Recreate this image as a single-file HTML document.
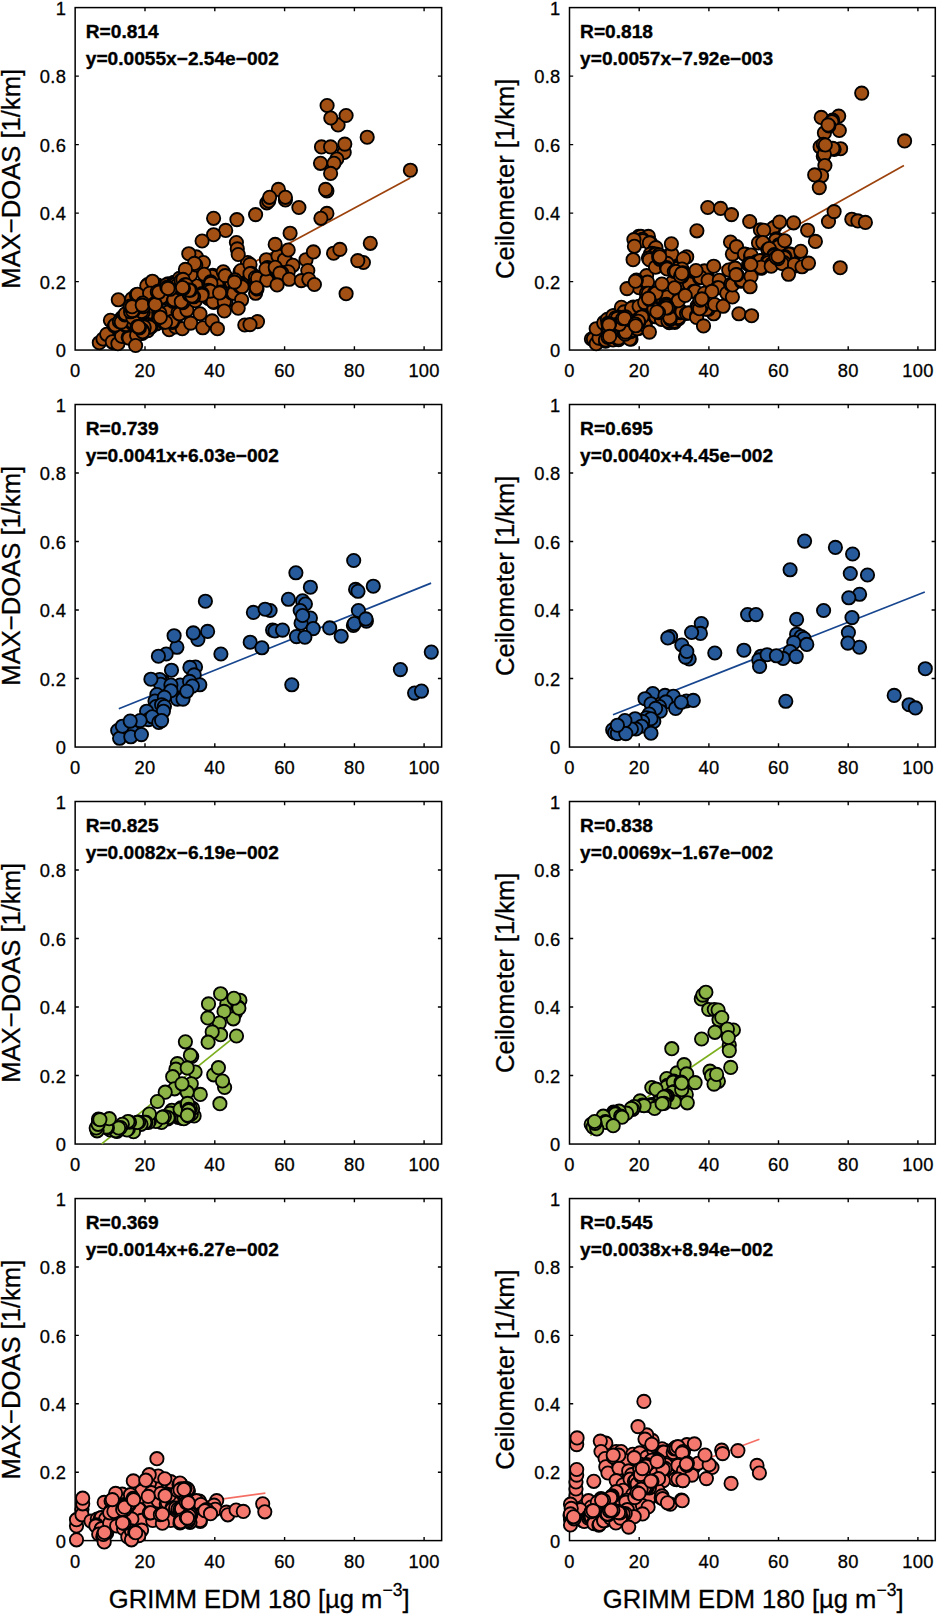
<!DOCTYPE html>
<html><head><meta charset="utf-8"><title>Scatter plots</title>
<style>html,body{margin:0;padding:0;background:#fff}svg{display:block}text{font-family:"Liberation Sans", Arial, Helvetica, sans-serif;fill:#000}.t{font-size:18.7px;letter-spacing:0.3px;stroke:#000;stroke-width:0.3px}.l{font-size:25.6px;stroke:#000;stroke-width:0.3px}.a{font-size:18.8px;font-weight:bold;stroke:#000;stroke-width:0.35px}.ax{fill:none;stroke:#000;stroke-width:1.5}.tk{stroke:#000;stroke-width:1.4}</style></head><body>
<svg width="938" height="1615" viewBox="0 0 938 1615">
<rect width="938" height="1615" fill="#fff"/>
<g>
<rect class="ax" x="75.15" y="7.6" width="366.5" height="342.45"/>
<path class="tk" d="M145.0 350.05v-3.7M145.0 7.6v3.7M214.8 350.05v-3.7M214.8 7.6v3.7M284.6 350.05v-3.7M284.6 7.6v3.7M354.4 350.05v-3.7M354.4 7.6v3.7M424.1 350.05v-3.7M424.1 7.6v3.7M75.15 281.6h3.7M441.6 281.6h-3.7M75.15 213.1h3.7M441.6 213.1h-3.7M75.15 144.6h3.7M441.6 144.6h-3.7M75.15 76.1h3.7M441.6 76.1h-3.7"/>
<line x1="96.1" y1="347.4" x2="410.2" y2="177.9" stroke="#9C420C" stroke-width="1.7"/>
<g fill="#A35014" stroke="#000" stroke-width="1.85"><circle cx="144.2" cy="305.0" r="6.65"/><circle cx="143.1" cy="306.8" r="6.65"/><circle cx="174.4" cy="288.0" r="6.65"/><circle cx="177.9" cy="288.4" r="6.65"/><circle cx="176.2" cy="287.7" r="6.65"/><circle cx="181.0" cy="286.4" r="6.65"/><circle cx="182.3" cy="288.2" r="6.65"/><circle cx="124.1" cy="320.8" r="6.65"/><circle cx="123.5" cy="322.0" r="6.65"/><circle cx="133.8" cy="319.2" r="6.65"/><circle cx="136.7" cy="318.2" r="6.65"/><circle cx="135.2" cy="318.0" r="6.65"/><circle cx="141.3" cy="329.7" r="6.65"/><circle cx="142.6" cy="329.4" r="6.65"/><circle cx="140.8" cy="328.7" r="6.65"/><circle cx="144.0" cy="331.1" r="6.65"/><circle cx="141.5" cy="331.4" r="6.65"/><circle cx="143.1" cy="330.1" r="6.65"/><circle cx="135.6" cy="312.7" r="6.65"/><circle cx="134.2" cy="311.9" r="6.65"/><circle cx="129.5" cy="303.8" r="6.65"/><circle cx="131.4" cy="304.5" r="6.65"/><circle cx="142.1" cy="310.1" r="6.65"/><circle cx="141.2" cy="311.9" r="6.65"/><circle cx="152.6" cy="308.3" r="6.65"/><circle cx="152.9" cy="306.8" r="6.65"/><circle cx="157.2" cy="319.9" r="6.65"/><circle cx="158.5" cy="318.3" r="6.65"/><circle cx="168.0" cy="316.8" r="6.65"/><circle cx="166.9" cy="317.1" r="6.65"/><circle cx="169.3" cy="322.9" r="6.65"/><circle cx="168.9" cy="323.3" r="6.65"/><circle cx="168.8" cy="321.7" r="6.65"/><circle cx="159.2" cy="291.2" r="6.65"/><circle cx="160.4" cy="291.9" r="6.65"/><circle cx="168.9" cy="289.1" r="6.65"/><circle cx="166.2" cy="290.3" r="6.65"/><circle cx="167.4" cy="289.1" r="6.65"/><circle cx="184.5" cy="281.1" r="6.65"/><circle cx="182.7" cy="281.6" r="6.65"/><circle cx="211.3" cy="284.7" r="6.65"/><circle cx="213.1" cy="284.9" r="6.65"/><circle cx="208.9" cy="290.5" r="6.65"/><circle cx="209.3" cy="291.4" r="6.65"/><circle cx="237.0" cy="280.5" r="6.65"/><circle cx="235.4" cy="281.6" r="6.65"/><circle cx="193.6" cy="295.6" r="6.65"/><circle cx="192.3" cy="297.0" r="6.65"/><circle cx="186.4" cy="290.0" r="6.65"/><circle cx="187.6" cy="289.1" r="6.65"/><circle cx="255.1" cy="277.1" r="6.65"/><circle cx="253.7" cy="276.0" r="6.65"/><circle cx="285.0" cy="272.9" r="6.65"/><circle cx="284.0" cy="272.5" r="6.65"/><circle cx="141.5" cy="304.7" r="6.65"/><circle cx="141.2" cy="303.5" r="6.65"/><circle cx="178.0" cy="292.3" r="6.65"/><circle cx="178.5" cy="291.4" r="6.65"/><circle cx="99.3" cy="342.7" r="6.65"/><circle cx="103.0" cy="339.0" r="6.65"/><circle cx="107.9" cy="334.3" r="6.65"/><circle cx="106.7" cy="334.3" r="6.65"/><circle cx="113.5" cy="342.6" r="6.65"/><circle cx="112.3" cy="341.8" r="6.65"/><circle cx="117.9" cy="343.7" r="6.65"/><circle cx="123.7" cy="336.5" r="6.65"/><circle cx="121.6" cy="336.2" r="6.65"/><circle cx="128.2" cy="337.3" r="6.65"/><circle cx="129.1" cy="338.1" r="6.65"/><circle cx="110.4" cy="320.3" r="6.65"/><circle cx="165.1" cy="316.6" r="6.65"/><circle cx="165.1" cy="315.2" r="6.65"/><circle cx="114.4" cy="325.9" r="6.65"/><circle cx="115.1" cy="325.0" r="6.65"/><circle cx="122.0" cy="317.6" r="6.65"/><circle cx="120.7" cy="319.4" r="6.65"/><circle cx="124.8" cy="325.0" r="6.65"/><circle cx="126.3" cy="324.6" r="6.65"/><circle cx="133.8" cy="322.8" r="6.65"/><circle cx="132.1" cy="323.3" r="6.65"/><circle cx="132.8" cy="322.2" r="6.65"/><circle cx="139.9" cy="323.0" r="6.65"/><circle cx="141.5" cy="324.4" r="6.65"/><circle cx="139.4" cy="324.1" r="6.65"/><circle cx="141.0" cy="333.2" r="6.65"/><circle cx="142.2" cy="333.4" r="6.65"/><circle cx="283.2" cy="274.1" r="6.65"/><circle cx="284.2" cy="274.4" r="6.65"/><circle cx="145.6" cy="330.2" r="6.65"/><circle cx="147.8" cy="330.6" r="6.65"/><circle cx="137.8" cy="333.9" r="6.65"/><circle cx="136.6" cy="335.3" r="6.65"/><circle cx="167.7" cy="324.8" r="6.65"/><circle cx="168.8" cy="325.0" r="6.65"/><circle cx="167.8" cy="323.3" r="6.65"/><circle cx="119.4" cy="321.7" r="6.65"/><circle cx="121.3" cy="322.1" r="6.65"/><circle cx="135.6" cy="345.5" r="6.65"/><circle cx="124.8" cy="314.9" r="6.65"/><circle cx="125.4" cy="313.8" r="6.65"/><circle cx="131.8" cy="308.1" r="6.65"/><circle cx="131.0" cy="310.1" r="6.65"/><circle cx="138.7" cy="312.2" r="6.65"/><circle cx="137.5" cy="313.8" r="6.65"/><circle cx="145.7" cy="308.4" r="6.65"/><circle cx="145.0" cy="310.1" r="6.65"/><circle cx="151.7" cy="313.5" r="6.65"/><circle cx="151.5" cy="311.9" r="6.65"/><circle cx="156.5" cy="323.9" r="6.65"/><circle cx="157.1" cy="323.1" r="6.65"/><circle cx="150.9" cy="327.1" r="6.65"/><circle cx="149.6" cy="326.9" r="6.65"/><circle cx="143.9" cy="328.7" r="6.65"/><circle cx="144.0" cy="326.9" r="6.65"/><circle cx="169.2" cy="329.7" r="6.65"/><circle cx="177.2" cy="326.5" r="6.65"/><circle cx="175.7" cy="326.9" r="6.65"/><circle cx="134.9" cy="316.8" r="6.65"/><circle cx="134.2" cy="317.3" r="6.65"/><circle cx="132.9" cy="317.7" r="6.65"/><circle cx="182.3" cy="328.7" r="6.65"/><circle cx="168.5" cy="313.2" r="6.65"/><circle cx="168.3" cy="311.9" r="6.65"/><circle cx="172.4" cy="322.4" r="6.65"/><circle cx="172.0" cy="321.3" r="6.65"/><circle cx="178.0" cy="312.3" r="6.65"/><circle cx="179.5" cy="313.8" r="6.65"/><circle cx="186.9" cy="310.1" r="6.65"/><circle cx="147.7" cy="284.5" r="6.65"/><circle cx="146.8" cy="285.8" r="6.65"/><circle cx="157.8" cy="285.1" r="6.65"/><circle cx="159.0" cy="286.8" r="6.65"/><circle cx="143.2" cy="312.3" r="6.65"/><circle cx="141.6" cy="311.4" r="6.65"/><circle cx="168.1" cy="283.8" r="6.65"/><circle cx="166.4" cy="284.9" r="6.65"/><circle cx="173.9" cy="282.4" r="6.65"/><circle cx="173.9" cy="284.0" r="6.65"/><circle cx="180.3" cy="280.1" r="6.65"/><circle cx="179.5" cy="278.4" r="6.65"/><circle cx="195.3" cy="287.5" r="6.65"/><circle cx="196.3" cy="285.8" r="6.65"/><circle cx="133.8" cy="310.3" r="6.65"/><circle cx="130.6" cy="311.8" r="6.65"/><circle cx="132.4" cy="310.6" r="6.65"/><circle cx="209.1" cy="284.6" r="6.65"/><circle cx="209.3" cy="285.8" r="6.65"/><circle cx="217.6" cy="284.8" r="6.65"/><circle cx="216.8" cy="284.0" r="6.65"/><circle cx="233.3" cy="281.9" r="6.65"/><circle cx="231.7" cy="283.0" r="6.65"/><circle cx="131.9" cy="298.9" r="6.65"/><circle cx="155.5" cy="303.3" r="6.65"/><circle cx="154.3" cy="301.7" r="6.65"/><circle cx="170.1" cy="293.1" r="6.65"/><circle cx="168.3" cy="293.3" r="6.65"/><circle cx="195.3" cy="300.7" r="6.65"/><circle cx="208.4" cy="298.4" r="6.65"/><circle cx="209.3" cy="297.0" r="6.65"/><circle cx="213.8" cy="302.4" r="6.65"/><circle cx="213.1" cy="301.7" r="6.65"/><circle cx="226.0" cy="301.4" r="6.65"/><circle cx="224.3" cy="301.7" r="6.65"/><circle cx="231.5" cy="292.9" r="6.65"/><circle cx="233.6" cy="293.3" r="6.65"/><circle cx="188.8" cy="275.5" r="6.65"/><circle cx="190.7" cy="274.6" r="6.65"/><circle cx="212.7" cy="275.4" r="6.65"/><circle cx="212.1" cy="276.5" r="6.65"/><circle cx="223.3" cy="271.8" r="6.65"/><circle cx="247.6" cy="263.9" r="6.65"/><circle cx="247.6" cy="262.5" r="6.65"/><circle cx="239.3" cy="281.9" r="6.65"/><circle cx="239.2" cy="280.2" r="6.65"/><circle cx="249.4" cy="279.9" r="6.65"/><circle cx="249.4" cy="278.4" r="6.65"/><circle cx="196.3" cy="256.9" r="6.65"/><circle cx="203.4" cy="262.5" r="6.65"/><circle cx="213.6" cy="218.3" r="6.65"/><circle cx="236.9" cy="219.6" r="6.65"/><circle cx="225.7" cy="230.4" r="6.65"/><circle cx="213.6" cy="234.7" r="6.65"/><circle cx="202.1" cy="241.0" r="6.65"/><circle cx="236.4" cy="242.5" r="6.65"/><circle cx="237.3" cy="248.9" r="6.65"/><circle cx="238.2" cy="254.5" r="6.65"/><circle cx="188.8" cy="253.7" r="6.65"/><circle cx="195.8" cy="265.0" r="6.65"/><circle cx="194.4" cy="263.4" r="6.65"/><circle cx="185.4" cy="269.4" r="6.65"/><circle cx="204.1" cy="274.3" r="6.65"/><circle cx="225.2" cy="275.6" r="6.65"/><circle cx="240.1" cy="271.8" r="6.65"/><circle cx="241.0" cy="270.5" r="6.65"/><circle cx="175.2" cy="284.5" r="6.65"/><circle cx="177.0" cy="285.5" r="6.65"/><circle cx="181.1" cy="280.4" r="6.65"/><circle cx="183.0" cy="279.4" r="6.65"/><circle cx="240.3" cy="286.7" r="6.65"/><circle cx="242.0" cy="286.8" r="6.65"/><circle cx="152.4" cy="281.2" r="6.65"/><circle cx="185.0" cy="284.7" r="6.65"/><circle cx="186.0" cy="284.9" r="6.65"/><circle cx="136.4" cy="294.7" r="6.65"/><circle cx="137.5" cy="294.2" r="6.65"/><circle cx="151.6" cy="293.3" r="6.65"/><circle cx="149.6" cy="293.3" r="6.65"/><circle cx="162.5" cy="298.4" r="6.65"/><circle cx="161.8" cy="297.0" r="6.65"/><circle cx="210.6" cy="281.8" r="6.65"/><circle cx="210.9" cy="283.4" r="6.65"/><circle cx="173.1" cy="301.3" r="6.65"/><circle cx="173.9" cy="299.8" r="6.65"/><circle cx="208.4" cy="290.4" r="6.65"/><circle cx="210.2" cy="291.1" r="6.65"/><circle cx="182.7" cy="302.7" r="6.65"/><circle cx="181.3" cy="301.7" r="6.65"/><circle cx="189.2" cy="294.6" r="6.65"/><circle cx="189.2" cy="293.3" r="6.65"/><circle cx="202.1" cy="293.6" r="6.65"/><circle cx="201.9" cy="295.1" r="6.65"/><circle cx="130.3" cy="306.0" r="6.65"/><circle cx="132.1" cy="306.7" r="6.65"/><circle cx="220.9" cy="292.1" r="6.65"/><circle cx="219.6" cy="292.9" r="6.65"/><circle cx="241.6" cy="299.8" r="6.65"/><circle cx="238.2" cy="308.2" r="6.65"/><circle cx="224.3" cy="311.0" r="6.65"/><circle cx="118.3" cy="299.8" r="6.65"/><circle cx="158.7" cy="312.4" r="6.65"/><circle cx="159.9" cy="313.4" r="6.65"/><circle cx="163.7" cy="322.1" r="6.65"/><circle cx="165.5" cy="322.2" r="6.65"/><circle cx="200.0" cy="313.8" r="6.65"/><circle cx="190.7" cy="323.1" r="6.65"/><circle cx="202.8" cy="327.8" r="6.65"/><circle cx="212.1" cy="320.9" r="6.65"/><circle cx="217.4" cy="328.7" r="6.65"/><circle cx="244.8" cy="325.0" r="6.65"/><circle cx="266.8" cy="202.8" r="6.65"/><circle cx="268.7" cy="200.9" r="6.65"/><circle cx="285.4" cy="200.0" r="6.65"/><circle cx="298.9" cy="207.5" r="6.65"/><circle cx="255.6" cy="214.6" r="6.65"/><circle cx="158.7" cy="317.7" r="6.65"/><circle cx="160.3" cy="317.2" r="6.65"/><circle cx="326.9" cy="213.4" r="6.65"/><circle cx="320.9" cy="218.3" r="6.65"/><circle cx="290.1" cy="233.2" r="6.65"/><circle cx="250.3" cy="276.7" r="6.65"/><circle cx="252.5" cy="276.4" r="6.65"/><circle cx="142.1" cy="329.8" r="6.65"/><circle cx="142.7" cy="331.8" r="6.65"/><circle cx="250.0" cy="264.4" r="6.65"/><circle cx="251.2" cy="273.2" r="6.65"/><circle cx="250.0" cy="273.7" r="6.65"/><circle cx="255.6" cy="293.3" r="6.65"/><circle cx="255.5" cy="277.6" r="6.65"/><circle cx="257.5" cy="278.4" r="6.65"/><circle cx="267.4" cy="279.2" r="6.65"/><circle cx="266.8" cy="280.2" r="6.65"/><circle cx="266.4" cy="259.7" r="6.65"/><circle cx="279.1" cy="257.0" r="6.65"/><circle cx="278.0" cy="256.0" r="6.65"/><circle cx="285.7" cy="260.3" r="6.65"/><circle cx="284.5" cy="259.7" r="6.65"/><circle cx="275.2" cy="244.4" r="6.65"/><circle cx="288.2" cy="250.0" r="6.65"/><circle cx="193.6" cy="296.8" r="6.65"/><circle cx="192.0" cy="296.0" r="6.65"/><circle cx="142.7" cy="303.0" r="6.65"/><circle cx="143.3" cy="306.6" r="6.65"/><circle cx="142.2" cy="305.1" r="6.65"/><circle cx="306.0" cy="259.7" r="6.65"/><circle cx="313.4" cy="251.9" r="6.65"/><circle cx="292.9" cy="265.3" r="6.65"/><circle cx="154.6" cy="303.6" r="6.65"/><circle cx="155.3" cy="304.5" r="6.65"/><circle cx="267.5" cy="267.6" r="6.65"/><circle cx="265.9" cy="269.0" r="6.65"/><circle cx="275.6" cy="269.3" r="6.65"/><circle cx="275.2" cy="267.2" r="6.65"/><circle cx="307.8" cy="270.5" r="6.65"/><circle cx="287.0" cy="272.8" r="6.65"/><circle cx="288.2" cy="271.8" r="6.65"/><circle cx="281.8" cy="273.0" r="6.65"/><circle cx="279.9" cy="273.1" r="6.65"/><circle cx="289.2" cy="279.3" r="6.65"/><circle cx="301.3" cy="280.6" r="6.65"/><circle cx="308.8" cy="279.3" r="6.65"/><circle cx="314.4" cy="284.5" r="6.65"/><circle cx="277.1" cy="284.9" r="6.65"/><circle cx="139.4" cy="328.0" r="6.65"/><circle cx="137.2" cy="326.5" r="6.65"/><circle cx="138.6" cy="326.7" r="6.65"/><circle cx="257.0" cy="289.0" r="6.65"/><circle cx="256.5" cy="287.7" r="6.65"/><circle cx="257.5" cy="321.6" r="6.65"/><circle cx="158.6" cy="291.3" r="6.65"/><circle cx="157.3" cy="291.8" r="6.65"/><circle cx="158.8" cy="292.3" r="6.65"/><circle cx="250.0" cy="324.6" r="6.65"/><circle cx="190.5" cy="290.2" r="6.65"/><circle cx="189.1" cy="290.1" r="6.65"/><circle cx="333.6" cy="253.2" r="6.65"/><circle cx="339.9" cy="249.4" r="6.65"/><circle cx="166.9" cy="287.3" r="6.65"/><circle cx="170.1" cy="289.3" r="6.65"/><circle cx="168.0" cy="288.4" r="6.65"/><circle cx="370.3" cy="243.3" r="6.65"/><circle cx="363.4" cy="262.5" r="6.65"/><circle cx="235.0" cy="279.9" r="6.65"/><circle cx="234.5" cy="282.1" r="6.65"/><circle cx="357.8" cy="260.6" r="6.65"/><circle cx="346.1" cy="293.7" r="6.65"/><circle cx="327.1" cy="105.5" r="6.65"/><circle cx="338.1" cy="124.9" r="6.65"/><circle cx="330.8" cy="118.0" r="6.65"/><circle cx="346.1" cy="115.5" r="6.65"/><circle cx="367.2" cy="137.2" r="6.65"/><circle cx="321.5" cy="146.9" r="6.65"/><circle cx="344.2" cy="152.5" r="6.65"/><circle cx="344.8" cy="144.1" r="6.65"/><circle cx="330.6" cy="146.9" r="6.65"/><circle cx="336.8" cy="159.0" r="6.65"/><circle cx="320.5" cy="163.3" r="6.65"/><circle cx="334.0" cy="163.3" r="6.65"/><circle cx="330.6" cy="173.4" r="6.65"/><circle cx="326.9" cy="190.9" r="6.65"/><circle cx="325.6" cy="189.4" r="6.65"/><circle cx="410.4" cy="170.2" r="6.65"/><circle cx="278.4" cy="189.4" r="6.65"/><circle cx="183.5" cy="288.3" r="6.65"/><circle cx="182.5" cy="287.5" r="6.65"/><circle cx="269.6" cy="197.3" r="6.65"/><circle cx="285.4" cy="197.3" r="6.65"/></g>
<text class="t" transform="translate(75.2 377.2) scale(0.98 1)" text-anchor="middle">0</text><text class="t" transform="translate(145.0 377.2) scale(0.98 1)" text-anchor="middle">20</text><text class="t" transform="translate(214.8 377.2) scale(0.98 1)" text-anchor="middle">40</text><text class="t" transform="translate(284.6 377.2) scale(0.98 1)" text-anchor="middle">60</text><text class="t" transform="translate(354.4 377.2) scale(0.98 1)" text-anchor="middle">80</text><text class="t" transform="translate(424.1 377.2) scale(0.98 1)" text-anchor="middle">100</text><text class="t" transform="translate(66.2 357.2) scale(0.98 1)" text-anchor="end">0</text><text class="t" transform="translate(66.2 288.8) scale(0.98 1)" text-anchor="end">0.2</text><text class="t" transform="translate(66.2 220.3) scale(0.98 1)" text-anchor="end">0.4</text><text class="t" transform="translate(66.2 151.8) scale(0.98 1)" text-anchor="end">0.6</text><text class="t" transform="translate(66.2 83.3) scale(0.98 1)" text-anchor="end">0.8</text><text class="t" transform="translate(66.2 14.8) scale(0.98 1)" text-anchor="end">1</text>
<text class="a" transform="translate(85.8 37.9) scale(1.018 1)">R=0.814</text><text class="a" transform="translate(85.8 64.8) scale(1.018 1)">y=0.0055x−2.54e−002</text>
<text class="l" transform="translate(19.9 178.8) rotate(-90)" text-anchor="middle">MAX−DOAS [1/km]</text>
</g>
<g>
<rect class="ax" x="569.5" y="7.6" width="365.8" height="342.45"/>
<path class="tk" d="M639.2 350.05v-3.7M639.2 7.6v3.7M708.9 350.05v-3.7M708.9 7.6v3.7M778.5 350.05v-3.7M778.5 7.6v3.7M848.2 350.05v-3.7M848.2 7.6v3.7M917.9 350.05v-3.7M917.9 7.6v3.7M569.5 281.6h3.7M935.3 281.6h-3.7M569.5 213.1h3.7M935.3 213.1h-3.7M569.5 144.6h3.7M935.3 144.6h-3.7M569.5 76.1h3.7M935.3 76.1h-3.7"/>
<line x1="590.4" y1="341.1" x2="903.9" y2="165.4" stroke="#9C420C" stroke-width="1.7"/>
<g fill="#A35014" stroke="#000" stroke-width="1.85"><circle cx="682.2" cy="272.1" r="6.65"/><circle cx="682.0" cy="273.7" r="6.65"/><circle cx="688.8" cy="283.8" r="6.65"/><circle cx="687.6" cy="282.1" r="6.65"/><circle cx="682.7" cy="274.7" r="6.65"/><circle cx="683.9" cy="274.6" r="6.65"/><circle cx="605.5" cy="325.7" r="6.65"/><circle cx="606.5" cy="326.4" r="6.65"/><circle cx="609.5" cy="323.8" r="6.65"/><circle cx="608.3" cy="324.5" r="6.65"/><circle cx="617.0" cy="317.5" r="6.65"/><circle cx="617.2" cy="319.8" r="6.65"/><circle cx="617.6" cy="318.5" r="6.65"/><circle cx="609.9" cy="336.1" r="6.65"/><circle cx="611.1" cy="334.8" r="6.65"/><circle cx="618.9" cy="333.9" r="6.65"/><circle cx="618.5" cy="332.5" r="6.65"/><circle cx="620.0" cy="333.9" r="6.65"/><circle cx="623.2" cy="324.0" r="6.65"/><circle cx="621.8" cy="325.5" r="6.65"/><circle cx="626.5" cy="329.0" r="6.65"/><circle cx="625.3" cy="331.4" r="6.65"/><circle cx="626.0" cy="330.1" r="6.65"/><circle cx="626.0" cy="321.2" r="6.65"/><circle cx="625.4" cy="322.3" r="6.65"/><circle cx="625.1" cy="320.3" r="6.65"/><circle cx="632.0" cy="318.9" r="6.65"/><circle cx="633.1" cy="321.5" r="6.65"/><circle cx="631.6" cy="320.3" r="6.65"/><circle cx="624.9" cy="314.2" r="6.65"/><circle cx="626.0" cy="315.7" r="6.65"/><circle cx="635.2" cy="324.9" r="6.65"/><circle cx="637.8" cy="324.3" r="6.65"/><circle cx="636.3" cy="325.0" r="6.65"/><circle cx="639.7" cy="318.9" r="6.65"/><circle cx="639.1" cy="320.3" r="6.65"/><circle cx="642.9" cy="316.5" r="6.65"/><circle cx="641.9" cy="316.1" r="6.65"/><circle cx="647.5" cy="298.8" r="6.65"/><circle cx="646.6" cy="297.9" r="6.65"/><circle cx="669.7" cy="310.1" r="6.65"/><circle cx="669.5" cy="309.1" r="6.65"/><circle cx="668.0" cy="310.1" r="6.65"/><circle cx="665.1" cy="303.0" r="6.65"/><circle cx="664.3" cy="304.5" r="6.65"/><circle cx="676.4" cy="314.5" r="6.65"/><circle cx="674.6" cy="314.7" r="6.65"/><circle cx="667.8" cy="315.4" r="6.65"/><circle cx="669.4" cy="316.6" r="6.65"/><circle cx="653.5" cy="312.2" r="6.65"/><circle cx="655.0" cy="312.9" r="6.65"/><circle cx="701.9" cy="298.3" r="6.65"/><circle cx="702.5" cy="297.0" r="6.65"/><circle cx="702.2" cy="304.8" r="6.65"/><circle cx="703.5" cy="304.9" r="6.65"/><circle cx="701.3" cy="309.1" r="6.65"/><circle cx="701.6" cy="307.7" r="6.65"/><circle cx="654.3" cy="251.5" r="6.65"/><circle cx="653.1" cy="250.8" r="6.65"/><circle cx="659.2" cy="255.9" r="6.65"/><circle cx="657.2" cy="255.9" r="6.65"/><circle cx="657.9" cy="256.7" r="6.65"/><circle cx="677.4" cy="271.2" r="6.65"/><circle cx="679.0" cy="270.2" r="6.65"/><circle cx="706.9" cy="273.8" r="6.65"/><circle cx="706.3" cy="275.6" r="6.65"/><circle cx="752.3" cy="263.7" r="6.65"/><circle cx="753.6" cy="261.3" r="6.65"/><circle cx="752.9" cy="262.5" r="6.65"/><circle cx="760.2" cy="263.3" r="6.65"/><circle cx="760.0" cy="265.4" r="6.65"/><circle cx="758.8" cy="264.4" r="6.65"/><circle cx="770.4" cy="253.4" r="6.65"/><circle cx="771.7" cy="252.2" r="6.65"/><circle cx="792.8" cy="258.6" r="6.65"/><circle cx="791.7" cy="259.2" r="6.65"/><circle cx="778.0" cy="257.8" r="6.65"/><circle cx="780.5" cy="256.1" r="6.65"/><circle cx="779.1" cy="256.9" r="6.65"/><circle cx="782.6" cy="259.3" r="6.65"/><circle cx="783.1" cy="260.6" r="6.65"/><circle cx="638.3" cy="286.2" r="6.65"/><circle cx="639.1" cy="287.7" r="6.65"/><circle cx="681.4" cy="277.3" r="6.65"/><circle cx="682.0" cy="278.4" r="6.65"/><circle cx="685.7" cy="280.2" r="6.65"/><circle cx="624.6" cy="314.8" r="6.65"/><circle cx="624.9" cy="316.9" r="6.65"/><circle cx="623.9" cy="316.3" r="6.65"/><circle cx="713.7" cy="313.8" r="6.65"/><circle cx="591.4" cy="339.0" r="6.65"/><circle cx="593.4" cy="339.0" r="6.65"/><circle cx="596.2" cy="343.7" r="6.65"/><circle cx="619.9" cy="332.4" r="6.65"/><circle cx="617.9" cy="332.5" r="6.65"/><circle cx="768.8" cy="249.6" r="6.65"/><circle cx="770.3" cy="251.0" r="6.65"/><circle cx="600.3" cy="337.9" r="6.65"/><circle cx="599.0" cy="338.1" r="6.65"/><circle cx="596.2" cy="328.7" r="6.65"/><circle cx="604.3" cy="322.0" r="6.65"/><circle cx="603.7" cy="323.1" r="6.65"/><circle cx="607.4" cy="319.4" r="6.65"/><circle cx="614.7" cy="315.6" r="6.65"/><circle cx="613.0" cy="315.7" r="6.65"/><circle cx="605.6" cy="341.2" r="6.65"/><circle cx="605.5" cy="339.9" r="6.65"/><circle cx="613.0" cy="339.9" r="6.65"/><circle cx="618.6" cy="339.7" r="6.65"/><circle cx="618.6" cy="338.1" r="6.65"/><circle cx="608.0" cy="330.0" r="6.65"/><circle cx="609.3" cy="329.7" r="6.65"/><circle cx="678.1" cy="267.0" r="6.65"/><circle cx="677.5" cy="268.5" r="6.65"/><circle cx="621.9" cy="331.2" r="6.65"/><circle cx="621.4" cy="329.7" r="6.65"/><circle cx="623.2" cy="322.0" r="6.65"/><circle cx="622.3" cy="321.3" r="6.65"/><circle cx="790.3" cy="259.1" r="6.65"/><circle cx="789.3" cy="258.5" r="6.65"/><circle cx="626.5" cy="318.8" r="6.65"/><circle cx="627.9" cy="319.4" r="6.65"/><circle cx="656.1" cy="253.7" r="6.65"/><circle cx="654.1" cy="253.1" r="6.65"/><circle cx="631.0" cy="339.2" r="6.65"/><circle cx="629.8" cy="339.0" r="6.65"/><circle cx="630.6" cy="331.7" r="6.65"/><circle cx="630.7" cy="330.6" r="6.65"/><circle cx="757.1" cy="265.8" r="6.65"/><circle cx="758.5" cy="267.0" r="6.65"/><circle cx="758.8" cy="265.4" r="6.65"/><circle cx="783.5" cy="263.3" r="6.65"/><circle cx="782.5" cy="262.3" r="6.65"/><circle cx="638.3" cy="328.6" r="6.65"/><circle cx="637.2" cy="328.7" r="6.65"/><circle cx="635.9" cy="319.3" r="6.65"/><circle cx="635.4" cy="321.3" r="6.65"/><circle cx="643.8" cy="320.0" r="6.65"/><circle cx="642.8" cy="319.4" r="6.65"/><circle cx="645.4" cy="322.9" r="6.65"/><circle cx="644.7" cy="325.0" r="6.65"/><circle cx="649.4" cy="332.1" r="6.65"/><circle cx="642.1" cy="313.5" r="6.65"/><circle cx="641.0" cy="312.9" r="6.65"/><circle cx="621.4" cy="307.3" r="6.65"/><circle cx="626.1" cy="312.4" r="6.65"/><circle cx="624.2" cy="311.9" r="6.65"/><circle cx="630.8" cy="324.7" r="6.65"/><circle cx="631.5" cy="322.6" r="6.65"/><circle cx="630.4" cy="322.8" r="6.65"/><circle cx="633.3" cy="307.0" r="6.65"/><circle cx="631.6" cy="308.2" r="6.65"/><circle cx="607.9" cy="323.4" r="6.65"/><circle cx="609.0" cy="324.3" r="6.65"/><circle cx="639.1" cy="306.3" r="6.65"/><circle cx="645.8" cy="304.3" r="6.65"/><circle cx="644.7" cy="302.6" r="6.65"/><circle cx="674.1" cy="318.5" r="6.65"/><circle cx="674.5" cy="317.6" r="6.65"/><circle cx="673.0" cy="317.0" r="6.65"/><circle cx="661.5" cy="308.3" r="6.65"/><circle cx="659.0" cy="308.3" r="6.65"/><circle cx="659.6" cy="307.3" r="6.65"/><circle cx="666.2" cy="307.9" r="6.65"/><circle cx="665.5" cy="307.0" r="6.65"/><circle cx="665.2" cy="308.2" r="6.65"/><circle cx="671.7" cy="313.5" r="6.65"/><circle cx="670.5" cy="313.2" r="6.65"/><circle cx="670.8" cy="311.9" r="6.65"/><circle cx="654.8" cy="316.6" r="6.65"/><circle cx="655.9" cy="316.6" r="6.65"/><circle cx="661.3" cy="318.3" r="6.65"/><circle cx="661.5" cy="319.4" r="6.65"/><circle cx="669.3" cy="322.7" r="6.65"/><circle cx="668.0" cy="321.3" r="6.65"/><circle cx="674.7" cy="322.5" r="6.65"/><circle cx="674.6" cy="321.3" r="6.65"/><circle cx="678.8" cy="318.6" r="6.65"/><circle cx="678.3" cy="317.5" r="6.65"/><circle cx="640.2" cy="317.6" r="6.65"/><circle cx="641.9" cy="316.9" r="6.65"/><circle cx="623.9" cy="332.7" r="6.65"/><circle cx="625.1" cy="334.1" r="6.65"/><circle cx="625.6" cy="332.1" r="6.65"/><circle cx="680.3" cy="312.6" r="6.65"/><circle cx="682.0" cy="311.9" r="6.65"/><circle cx="653.9" cy="307.7" r="6.65"/><circle cx="654.0" cy="309.1" r="6.65"/><circle cx="615.7" cy="317.7" r="6.65"/><circle cx="618.7" cy="317.1" r="6.65"/><circle cx="617.4" cy="318.4" r="6.65"/><circle cx="663.6" cy="299.5" r="6.65"/><circle cx="663.4" cy="300.7" r="6.65"/><circle cx="666.9" cy="299.1" r="6.65"/><circle cx="667.1" cy="297.0" r="6.65"/><circle cx="627.0" cy="288.6" r="6.65"/><circle cx="686.7" cy="281.4" r="6.65"/><circle cx="685.7" cy="283.1" r="6.65"/><circle cx="646.6" cy="275.6" r="6.65"/><circle cx="647.2" cy="283.8" r="6.65"/><circle cx="647.5" cy="282.1" r="6.65"/><circle cx="646.5" cy="293.2" r="6.65"/><circle cx="648.4" cy="293.3" r="6.65"/><circle cx="617.5" cy="324.2" r="6.65"/><circle cx="619.4" cy="324.3" r="6.65"/><circle cx="654.6" cy="292.7" r="6.65"/><circle cx="655.9" cy="293.3" r="6.65"/><circle cx="673.7" cy="283.3" r="6.65"/><circle cx="672.7" cy="282.1" r="6.65"/><circle cx="674.6" cy="287.7" r="6.65"/><circle cx="665.2" cy="304.6" r="6.65"/><circle cx="666.5" cy="304.4" r="6.65"/><circle cx="678.3" cy="300.7" r="6.65"/><circle cx="691.5" cy="284.4" r="6.65"/><circle cx="689.5" cy="284.0" r="6.65"/><circle cx="693.7" cy="291.4" r="6.65"/><circle cx="695.1" cy="291.4" r="6.65"/><circle cx="704.4" cy="293.3" r="6.65"/><circle cx="699.9" cy="301.5" r="6.65"/><circle cx="700.7" cy="300.7" r="6.65"/><circle cx="698.9" cy="306.3" r="6.65"/><circle cx="696.9" cy="306.3" r="6.65"/><circle cx="708.3" cy="309.3" r="6.65"/><circle cx="706.3" cy="309.1" r="6.65"/><circle cx="714.7" cy="304.5" r="6.65"/><circle cx="686.5" cy="313.5" r="6.65"/><circle cx="688.5" cy="312.9" r="6.65"/><circle cx="696.8" cy="315.5" r="6.65"/><circle cx="696.6" cy="317.5" r="6.65"/><circle cx="704.9" cy="274.9" r="6.65"/><circle cx="706.4" cy="275.6" r="6.65"/><circle cx="703.5" cy="325.9" r="6.65"/><circle cx="636.4" cy="280.1" r="6.65"/><circle cx="635.4" cy="281.2" r="6.65"/><circle cx="661.9" cy="284.0" r="6.65"/><circle cx="685.2" cy="295.5" r="6.65"/><circle cx="638.8" cy="236.3" r="6.65"/><circle cx="641.0" cy="236.4" r="6.65"/><circle cx="648.4" cy="236.4" r="6.65"/><circle cx="642.5" cy="239.3" r="6.65"/><circle cx="642.8" cy="240.7" r="6.65"/><circle cx="650.5" cy="242.8" r="6.65"/><circle cx="649.4" cy="242.9" r="6.65"/><circle cx="655.4" cy="248.6" r="6.65"/><circle cx="655.9" cy="247.6" r="6.65"/><circle cx="633.9" cy="239.6" r="6.65"/><circle cx="625.5" cy="316.9" r="6.65"/><circle cx="622.8" cy="318.6" r="6.65"/><circle cx="624.5" cy="318.4" r="6.65"/><circle cx="634.4" cy="246.3" r="6.65"/><circle cx="633.1" cy="259.7" r="6.65"/><circle cx="652.0" cy="253.3" r="6.65"/><circle cx="650.3" cy="254.1" r="6.65"/><circle cx="654.2" cy="254.9" r="6.65"/><circle cx="655.9" cy="254.1" r="6.65"/><circle cx="648.5" cy="258.1" r="6.65"/><circle cx="649.4" cy="259.7" r="6.65"/><circle cx="657.1" cy="266.4" r="6.65"/><circle cx="655.5" cy="267.2" r="6.65"/><circle cx="659.4" cy="258.5" r="6.65"/><circle cx="661.6" cy="258.9" r="6.65"/><circle cx="660.0" cy="259.3" r="6.65"/><circle cx="670.2" cy="254.3" r="6.65"/><circle cx="671.8" cy="254.1" r="6.65"/><circle cx="638.8" cy="322.3" r="6.65"/><circle cx="638.2" cy="322.3" r="6.65"/><circle cx="638.3" cy="321.3" r="6.65"/><circle cx="665.8" cy="263.9" r="6.65"/><circle cx="667.1" cy="263.4" r="6.65"/><circle cx="666.5" cy="267.6" r="6.65"/><circle cx="667.1" cy="269.0" r="6.65"/><circle cx="686.7" cy="256.9" r="6.65"/><circle cx="683.5" cy="258.8" r="6.65"/><circle cx="681.6" cy="270.5" r="6.65"/><circle cx="682.0" cy="269.0" r="6.65"/><circle cx="674.3" cy="271.5" r="6.65"/><circle cx="676.0" cy="271.5" r="6.65"/><circle cx="671.4" cy="243.8" r="6.65"/><circle cx="706.2" cy="272.0" r="6.65"/><circle cx="704.4" cy="270.9" r="6.65"/><circle cx="699.6" cy="277.9" r="6.65"/><circle cx="700.7" cy="277.4" r="6.65"/><circle cx="709.2" cy="280.0" r="6.65"/><circle cx="708.1" cy="280.2" r="6.65"/><circle cx="635.3" cy="324.0" r="6.65"/><circle cx="635.7" cy="325.8" r="6.65"/><circle cx="696.0" cy="270.5" r="6.65"/><circle cx="713.7" cy="266.2" r="6.65"/><circle cx="700.6" cy="307.6" r="6.65"/><circle cx="701.6" cy="306.3" r="6.65"/><circle cx="670.3" cy="319.3" r="6.65"/><circle cx="669.8" cy="317.7" r="6.65"/><circle cx="698.0" cy="307.7" r="6.65"/><circle cx="699.6" cy="308.7" r="6.65"/><circle cx="719.3" cy="280.2" r="6.65"/><circle cx="717.4" cy="287.7" r="6.65"/><circle cx="718.4" cy="287.7" r="6.65"/><circle cx="711.9" cy="291.4" r="6.65"/><circle cx="726.8" cy="293.3" r="6.65"/><circle cx="723.1" cy="306.3" r="6.65"/><circle cx="732.4" cy="297.0" r="6.65"/><circle cx="730.7" cy="284.4" r="6.65"/><circle cx="732.4" cy="284.9" r="6.65"/><circle cx="741.3" cy="281.3" r="6.65"/><circle cx="741.7" cy="280.2" r="6.65"/><circle cx="730.5" cy="242.0" r="6.65"/><circle cx="700.1" cy="300.2" r="6.65"/><circle cx="701.8" cy="298.9" r="6.65"/><circle cx="666.9" cy="305.9" r="6.65"/><circle cx="667.8" cy="308.0" r="6.65"/><circle cx="666.2" cy="307.9" r="6.65"/><circle cx="732.4" cy="254.1" r="6.65"/><circle cx="609.6" cy="323.7" r="6.65"/><circle cx="609.0" cy="324.9" r="6.65"/><circle cx="736.5" cy="246.6" r="6.65"/><circle cx="728.7" cy="270.0" r="6.65"/><circle cx="735.2" cy="268.1" r="6.65"/><circle cx="737.1" cy="274.8" r="6.65"/><circle cx="736.1" cy="274.6" r="6.65"/><circle cx="745.7" cy="254.2" r="6.65"/><circle cx="744.5" cy="254.1" r="6.65"/><circle cx="748.7" cy="264.7" r="6.65"/><circle cx="749.2" cy="263.4" r="6.65"/><circle cx="681.9" cy="276.3" r="6.65"/><circle cx="680.6" cy="276.0" r="6.65"/><circle cx="750.6" cy="256.1" r="6.65"/><circle cx="751.0" cy="255.0" r="6.65"/><circle cx="756.8" cy="263.6" r="6.65"/><circle cx="756.6" cy="261.6" r="6.65"/><circle cx="760.7" cy="265.8" r="6.65"/><circle cx="758.2" cy="267.0" r="6.65"/><circle cx="759.4" cy="267.2" r="6.65"/><circle cx="751.0" cy="276.5" r="6.65"/><circle cx="750.1" cy="286.8" r="6.65"/><circle cx="738.9" cy="313.8" r="6.65"/><circle cx="751.6" cy="315.7" r="6.65"/><circle cx="707.8" cy="207.5" r="6.65"/><circle cx="720.6" cy="208.4" r="6.65"/><circle cx="731.5" cy="214.6" r="6.65"/><circle cx="749.7" cy="221.5" r="6.65"/><circle cx="696.9" cy="230.8" r="6.65"/><circle cx="760.4" cy="229.9" r="6.65"/><circle cx="758.5" cy="242.9" r="6.65"/><circle cx="774.7" cy="227.0" r="6.65"/><circle cx="773.1" cy="228.0" r="6.65"/><circle cx="763.7" cy="230.2" r="6.65"/><circle cx="779.6" cy="222.0" r="6.65"/><circle cx="793.6" cy="222.8" r="6.65"/><circle cx="776.5" cy="238.7" r="6.65"/><circle cx="775.9" cy="240.1" r="6.65"/><circle cx="764.0" cy="243.6" r="6.65"/><circle cx="762.8" cy="242.5" r="6.65"/><circle cx="658.5" cy="312.6" r="6.65"/><circle cx="656.9" cy="311.8" r="6.65"/><circle cx="779.0" cy="244.7" r="6.65"/><circle cx="778.7" cy="246.6" r="6.65"/><circle cx="659.1" cy="254.7" r="6.65"/><circle cx="658.7" cy="257.1" r="6.65"/><circle cx="659.7" cy="256.7" r="6.65"/><circle cx="767.8" cy="249.5" r="6.65"/><circle cx="769.3" cy="248.5" r="6.65"/><circle cx="784.6" cy="240.7" r="6.65"/><circle cx="790.3" cy="254.0" r="6.65"/><circle cx="788.9" cy="254.1" r="6.65"/><circle cx="774.2" cy="254.6" r="6.65"/><circle cx="774.0" cy="256.0" r="6.65"/><circle cx="649.1" cy="299.3" r="6.65"/><circle cx="648.6" cy="298.4" r="6.65"/><circle cx="784.9" cy="256.6" r="6.65"/><circle cx="784.3" cy="257.8" r="6.65"/><circle cx="759.5" cy="261.9" r="6.65"/><circle cx="761.9" cy="260.9" r="6.65"/><circle cx="760.0" cy="260.6" r="6.65"/><circle cx="767.9" cy="260.7" r="6.65"/><circle cx="768.4" cy="262.5" r="6.65"/><circle cx="761.2" cy="268.3" r="6.65"/><circle cx="760.9" cy="267.2" r="6.65"/><circle cx="771.5" cy="264.1" r="6.65"/><circle cx="771.2" cy="266.2" r="6.65"/><circle cx="784.0" cy="262.6" r="6.65"/><circle cx="782.0" cy="263.4" r="6.65"/><circle cx="795.6" cy="266.0" r="6.65"/><circle cx="794.5" cy="264.4" r="6.65"/><circle cx="802.0" cy="266.8" r="6.65"/><circle cx="778.1" cy="258.6" r="6.65"/><circle cx="776.1" cy="257.3" r="6.65"/><circle cx="778.0" cy="256.5" r="6.65"/><circle cx="808.5" cy="263.1" r="6.65"/><circle cx="800.7" cy="251.3" r="6.65"/><circle cx="788.5" cy="274.3" r="6.65"/><circle cx="807.6" cy="230.2" r="6.65"/><circle cx="815.4" cy="241.4" r="6.65"/><circle cx="828.5" cy="221.5" r="6.65"/><circle cx="834.1" cy="211.6" r="6.65"/><circle cx="851.8" cy="219.2" r="6.65"/><circle cx="857.9" cy="220.9" r="6.65"/><circle cx="865.4" cy="222.4" r="6.65"/><circle cx="840.2" cy="267.7" r="6.65"/><circle cx="861.7" cy="93.1" r="6.65"/><circle cx="904.6" cy="140.9" r="6.65"/><circle cx="821.2" cy="117.4" r="6.65"/><circle cx="838.7" cy="116.1" r="6.65"/><circle cx="832.6" cy="120.2" r="6.65"/><circle cx="831.8" cy="121.7" r="6.65"/><circle cx="824.4" cy="132.9" r="6.65"/><circle cx="749.2" cy="264.5" r="6.65"/><circle cx="749.7" cy="263.6" r="6.65"/><circle cx="750.8" cy="264.5" r="6.65"/><circle cx="839.3" cy="130.5" r="6.65"/><circle cx="828.9" cy="125.8" r="6.65"/><circle cx="828.1" cy="124.9" r="6.65"/><circle cx="820.1" cy="146.9" r="6.65"/><circle cx="840.6" cy="148.7" r="6.65"/><circle cx="834.1" cy="149.3" r="6.65"/><circle cx="832.8" cy="148.4" r="6.65"/><circle cx="823.3" cy="156.2" r="6.65"/><circle cx="824.4" cy="154.3" r="6.65"/><circle cx="823.3" cy="144.3" r="6.65"/><circle cx="825.3" cy="145.0" r="6.65"/><circle cx="824.9" cy="165.5" r="6.65"/><circle cx="608.0" cy="337.3" r="6.65"/><circle cx="609.6" cy="336.4" r="6.65"/><circle cx="821.6" cy="175.8" r="6.65"/><circle cx="814.7" cy="174.9" r="6.65"/><circle cx="683.0" cy="272.7" r="6.65"/><circle cx="681.8" cy="273.4" r="6.65"/><circle cx="819.3" cy="187.6" r="6.65"/></g>
<text class="t" transform="translate(569.5 377.2) scale(0.98 1)" text-anchor="middle">0</text><text class="t" transform="translate(639.2 377.2) scale(0.98 1)" text-anchor="middle">20</text><text class="t" transform="translate(708.9 377.2) scale(0.98 1)" text-anchor="middle">40</text><text class="t" transform="translate(778.5 377.2) scale(0.98 1)" text-anchor="middle">60</text><text class="t" transform="translate(848.2 377.2) scale(0.98 1)" text-anchor="middle">80</text><text class="t" transform="translate(917.9 377.2) scale(0.98 1)" text-anchor="middle">100</text><text class="t" transform="translate(560.5 357.2) scale(0.98 1)" text-anchor="end">0</text><text class="t" transform="translate(560.5 288.8) scale(0.98 1)" text-anchor="end">0.2</text><text class="t" transform="translate(560.5 220.3) scale(0.98 1)" text-anchor="end">0.4</text><text class="t" transform="translate(560.5 151.8) scale(0.98 1)" text-anchor="end">0.6</text><text class="t" transform="translate(560.5 83.3) scale(0.98 1)" text-anchor="end">0.8</text><text class="t" transform="translate(560.5 14.8) scale(0.98 1)" text-anchor="end">1</text>
<text class="a" transform="translate(580.1 37.9) scale(1.018 1)">R=0.818</text><text class="a" transform="translate(580.1 64.8) scale(1.018 1)">y=0.0057x−7.92e−003</text>
<text class="l" transform="translate(514.2 178.8) rotate(-90)" text-anchor="middle">Ceilometer [1/km]</text>
</g>
<g>
<rect class="ax" x="75.15" y="404.5" width="366.5" height="342.55"/>
<path class="tk" d="M145.0 747.05v-3.7M145.0 404.5v3.7M214.8 747.05v-3.7M214.8 404.5v3.7M284.6 747.05v-3.7M284.6 404.5v3.7M354.4 747.05v-3.7M354.4 404.5v3.7M424.1 747.05v-3.7M424.1 404.5v3.7M75.15 678.5h3.7M441.6 678.5h-3.7M75.15 610.0h3.7M441.6 610.0h-3.7M75.15 541.5h3.7M441.6 541.5h-3.7M75.15 473.0h3.7M441.6 473.0h-3.7"/>
<line x1="118.8" y1="708.8" x2="431.1" y2="583.1" stroke="#17468F" stroke-width="1.7"/>
<g fill="#265A9B" stroke="#000" stroke-width="1.85"><circle cx="205.4" cy="601.2" r="6.65"/><circle cx="253.4" cy="612.4" r="6.65"/><circle cx="270.1" cy="610.5" r="6.65"/><circle cx="265.1" cy="609.2" r="6.65"/><circle cx="272.6" cy="630.1" r="6.65"/><circle cx="250.2" cy="642.2" r="6.65"/><circle cx="261.9" cy="647.8" r="6.65"/><circle cx="220.9" cy="654.0" r="6.65"/><circle cx="197.9" cy="639.4" r="6.65"/><circle cx="193.3" cy="632.9" r="6.65"/><circle cx="207.6" cy="631.4" r="6.65"/><circle cx="176.9" cy="647.3" r="6.65"/><circle cx="174.1" cy="635.7" r="6.65"/><circle cx="166.2" cy="654.0" r="6.65"/><circle cx="158.4" cy="656.2" r="6.65"/><circle cx="171.5" cy="670.2" r="6.65"/><circle cx="195.5" cy="667.0" r="6.65"/><circle cx="189.9" cy="667.4" r="6.65"/><circle cx="194.2" cy="674.9" r="6.65"/><circle cx="163.4" cy="682.0" r="6.65"/><circle cx="159.7" cy="679.5" r="6.65"/><circle cx="160.6" cy="684.2" r="6.65"/><circle cx="150.9" cy="679.2" r="6.65"/><circle cx="180.2" cy="685.1" r="6.65"/><circle cx="189.6" cy="681.4" r="6.65"/><circle cx="199.8" cy="684.8" r="6.65"/><circle cx="192.4" cy="686.1" r="6.65"/><circle cx="170.9" cy="685.1" r="6.65"/><circle cx="156.9" cy="694.5" r="6.65"/><circle cx="155.0" cy="701.0" r="6.65"/><circle cx="177.4" cy="699.1" r="6.65"/><circle cx="183.0" cy="699.1" r="6.65"/><circle cx="170.9" cy="690.7" r="6.65"/><circle cx="186.8" cy="691.3" r="6.65"/><circle cx="164.4" cy="697.3" r="6.65"/><circle cx="156.0" cy="706.6" r="6.65"/><circle cx="161.6" cy="704.7" r="6.65"/><circle cx="164.4" cy="706.6" r="6.65"/><circle cx="146.6" cy="711.2" r="6.65"/><circle cx="163.4" cy="711.2" r="6.65"/><circle cx="148.5" cy="719.6" r="6.65"/><circle cx="152.2" cy="716.8" r="6.65"/><circle cx="140.1" cy="720.6" r="6.65"/><circle cx="158.8" cy="722.4" r="6.65"/><circle cx="161.6" cy="720.6" r="6.65"/><circle cx="117.7" cy="730.5" r="6.65"/><circle cx="119.6" cy="738.3" r="6.65"/><circle cx="132.6" cy="731.8" r="6.65"/><circle cx="130.8" cy="736.8" r="6.65"/><circle cx="141.4" cy="734.6" r="6.65"/><circle cx="122.4" cy="726.2" r="6.65"/><circle cx="130.2" cy="721.1" r="6.65"/><circle cx="353.7" cy="560.5" r="6.65"/><circle cx="295.9" cy="572.8" r="6.65"/><circle cx="310.4" cy="587.2" r="6.65"/><circle cx="373.3" cy="586.2" r="6.65"/><circle cx="355.6" cy="589.4" r="6.65"/><circle cx="358.0" cy="591.3" r="6.65"/><circle cx="288.4" cy="599.3" r="6.65"/><circle cx="302.6" cy="600.8" r="6.65"/><circle cx="305.4" cy="604.0" r="6.65"/><circle cx="300.2" cy="610.5" r="6.65"/><circle cx="310.4" cy="618.0" r="6.65"/><circle cx="301.1" cy="623.2" r="6.65"/><circle cx="302.6" cy="615.5" r="6.65"/><circle cx="313.2" cy="628.6" r="6.65"/><circle cx="275.0" cy="631.0" r="6.65"/><circle cx="282.5" cy="630.1" r="6.65"/><circle cx="296.5" cy="636.6" r="6.65"/><circle cx="304.9" cy="637.2" r="6.65"/><circle cx="329.7" cy="627.9" r="6.65"/><circle cx="341.2" cy="636.2" r="6.65"/><circle cx="358.4" cy="610.5" r="6.65"/><circle cx="353.4" cy="625.4" r="6.65"/><circle cx="354.3" cy="623.6" r="6.65"/><circle cx="366.4" cy="621.1" r="6.65"/><circle cx="365.9" cy="618.9" r="6.65"/><circle cx="291.8" cy="684.8" r="6.65"/><circle cx="400.4" cy="669.6" r="6.65"/><circle cx="431.3" cy="652.1" r="6.65"/><circle cx="414.6" cy="693.1" r="6.65"/><circle cx="421.5" cy="691.1" r="6.65"/></g>
<text class="t" transform="translate(75.2 774.2) scale(0.98 1)" text-anchor="middle">0</text><text class="t" transform="translate(145.0 774.2) scale(0.98 1)" text-anchor="middle">20</text><text class="t" transform="translate(214.8 774.2) scale(0.98 1)" text-anchor="middle">40</text><text class="t" transform="translate(284.6 774.2) scale(0.98 1)" text-anchor="middle">60</text><text class="t" transform="translate(354.4 774.2) scale(0.98 1)" text-anchor="middle">80</text><text class="t" transform="translate(424.1 774.2) scale(0.98 1)" text-anchor="middle">100</text><text class="t" transform="translate(66.2 754.2) scale(0.98 1)" text-anchor="end">0</text><text class="t" transform="translate(66.2 685.7) scale(0.98 1)" text-anchor="end">0.2</text><text class="t" transform="translate(66.2 617.2) scale(0.98 1)" text-anchor="end">0.4</text><text class="t" transform="translate(66.2 548.7) scale(0.98 1)" text-anchor="end">0.6</text><text class="t" transform="translate(66.2 480.2) scale(0.98 1)" text-anchor="end">0.8</text><text class="t" transform="translate(66.2 411.7) scale(0.98 1)" text-anchor="end">1</text>
<text class="a" transform="translate(85.8 434.8) scale(1.018 1)">R=0.739</text><text class="a" transform="translate(85.8 461.7) scale(1.018 1)">y=0.0041x+6.03e−002</text>
<text class="l" transform="translate(19.9 575.8) rotate(-90)" text-anchor="middle">MAX−DOAS [1/km]</text>
</g>
<g>
<rect class="ax" x="569.5" y="404.5" width="365.8" height="342.55"/>
<path class="tk" d="M639.2 747.05v-3.7M639.2 404.5v3.7M708.9 747.05v-3.7M708.9 404.5v3.7M778.5 747.05v-3.7M778.5 404.5v3.7M848.2 747.05v-3.7M848.2 404.5v3.7M917.9 747.05v-3.7M917.9 404.5v3.7M569.5 678.5h3.7M935.3 678.5h-3.7M569.5 610.0h3.7M935.3 610.0h-3.7M569.5 541.5h3.7M935.3 541.5h-3.7M569.5 473.0h3.7M935.3 473.0h-3.7"/>
<line x1="613.0" y1="714.7" x2="924.8" y2="592.0" stroke="#17468F" stroke-width="1.7"/>
<g fill="#265A9B" stroke="#000" stroke-width="1.85"><circle cx="747.6" cy="614.6" r="6.65"/><circle cx="756.0" cy="614.6" r="6.65"/><circle cx="701.3" cy="623.5" r="6.65"/><circle cx="700.4" cy="633.4" r="6.65"/><circle cx="691.6" cy="632.5" r="6.65"/><circle cx="670.6" cy="636.6" r="6.65"/><circle cx="667.8" cy="637.9" r="6.65"/><circle cx="681.8" cy="645.0" r="6.65"/><circle cx="689.2" cy="659.0" r="6.65"/><circle cx="685.5" cy="657.1" r="6.65"/><circle cx="686.8" cy="651.5" r="6.65"/><circle cx="714.8" cy="653.0" r="6.65"/><circle cx="743.9" cy="650.2" r="6.65"/><circle cx="761.0" cy="656.2" r="6.65"/><circle cx="758.8" cy="659.9" r="6.65"/><circle cx="759.6" cy="666.5" r="6.65"/><circle cx="652.8" cy="693.5" r="6.65"/><circle cx="665.0" cy="695.4" r="6.65"/><circle cx="673.4" cy="696.3" r="6.65"/><circle cx="645.0" cy="698.7" r="6.65"/><circle cx="686.4" cy="701.0" r="6.65"/><circle cx="693.3" cy="700.4" r="6.65"/><circle cx="665.9" cy="701.9" r="6.65"/><circle cx="651.0" cy="703.8" r="6.65"/><circle cx="675.6" cy="708.4" r="6.65"/><circle cx="681.2" cy="702.3" r="6.65"/><circle cx="659.4" cy="706.6" r="6.65"/><circle cx="660.3" cy="711.2" r="6.65"/><circle cx="655.6" cy="708.4" r="6.65"/><circle cx="649.1" cy="714.0" r="6.65"/><circle cx="646.3" cy="717.8" r="6.65"/><circle cx="653.8" cy="721.5" r="6.65"/><circle cx="651.0" cy="718.7" r="6.65"/><circle cx="642.6" cy="721.5" r="6.65"/><circle cx="635.1" cy="718.7" r="6.65"/><circle cx="641.6" cy="726.2" r="6.65"/><circle cx="636.0" cy="729.0" r="6.65"/><circle cx="631.4" cy="729.0" r="6.65"/><circle cx="624.9" cy="720.6" r="6.65"/><circle cx="612.7" cy="729.9" r="6.65"/><circle cx="614.6" cy="732.7" r="6.65"/><circle cx="617.4" cy="733.6" r="6.65"/><circle cx="625.8" cy="733.6" r="6.65"/><circle cx="617.4" cy="725.2" r="6.65"/><circle cx="651.0" cy="733.2" r="6.65"/><circle cx="804.6" cy="541.1" r="6.65"/><circle cx="835.4" cy="547.4" r="6.65"/><circle cx="852.6" cy="554.0" r="6.65"/><circle cx="790.1" cy="569.8" r="6.65"/><circle cx="850.3" cy="573.5" r="6.65"/><circle cx="867.5" cy="575.0" r="6.65"/><circle cx="859.6" cy="594.3" r="6.65"/><circle cx="848.8" cy="597.8" r="6.65"/><circle cx="823.6" cy="610.5" r="6.65"/><circle cx="796.6" cy="619.4" r="6.65"/><circle cx="852.0" cy="617.6" r="6.65"/><circle cx="848.4" cy="632.5" r="6.65"/><circle cx="859.5" cy="647.2" r="6.65"/><circle cx="847.9" cy="643.1" r="6.65"/><circle cx="796.6" cy="634.2" r="6.65"/><circle cx="801.2" cy="636.6" r="6.65"/><circle cx="804.0" cy="638.5" r="6.65"/><circle cx="793.8" cy="642.6" r="6.65"/><circle cx="806.8" cy="644.4" r="6.65"/><circle cx="790.1" cy="651.5" r="6.65"/><circle cx="783.1" cy="658.4" r="6.65"/><circle cx="796.2" cy="656.6" r="6.65"/><circle cx="767.1" cy="654.7" r="6.65"/><circle cx="776.4" cy="655.8" r="6.65"/><circle cx="925.3" cy="668.7" r="6.65"/><circle cx="785.8" cy="701.3" r="6.65"/><circle cx="894.2" cy="695.4" r="6.65"/><circle cx="909.1" cy="704.7" r="6.65"/><circle cx="915.4" cy="707.9" r="6.65"/></g>
<text class="t" transform="translate(569.5 774.2) scale(0.98 1)" text-anchor="middle">0</text><text class="t" transform="translate(639.2 774.2) scale(0.98 1)" text-anchor="middle">20</text><text class="t" transform="translate(708.9 774.2) scale(0.98 1)" text-anchor="middle">40</text><text class="t" transform="translate(778.5 774.2) scale(0.98 1)" text-anchor="middle">60</text><text class="t" transform="translate(848.2 774.2) scale(0.98 1)" text-anchor="middle">80</text><text class="t" transform="translate(917.9 774.2) scale(0.98 1)" text-anchor="middle">100</text><text class="t" transform="translate(560.5 754.2) scale(0.98 1)" text-anchor="end">0</text><text class="t" transform="translate(560.5 685.7) scale(0.98 1)" text-anchor="end">0.2</text><text class="t" transform="translate(560.5 617.2) scale(0.98 1)" text-anchor="end">0.4</text><text class="t" transform="translate(560.5 548.7) scale(0.98 1)" text-anchor="end">0.6</text><text class="t" transform="translate(560.5 480.2) scale(0.98 1)" text-anchor="end">0.8</text><text class="t" transform="translate(560.5 411.7) scale(0.98 1)" text-anchor="end">1</text>
<text class="a" transform="translate(580.1 434.8) scale(1.018 1)">R=0.695</text><text class="a" transform="translate(580.1 461.7) scale(1.018 1)">y=0.0040x+4.45e−002</text>
<text class="l" transform="translate(514.2 575.8) rotate(-90)" text-anchor="middle">Ceilometer [1/km]</text>
</g>
<g>
<rect class="ax" x="75.15" y="801.5" width="366.5" height="342.55"/>
<path class="tk" d="M145.0 1144.05v-3.7M145.0 801.5v3.7M214.8 1144.05v-3.7M214.8 801.5v3.7M284.6 1144.05v-3.7M284.6 801.5v3.7M354.4 1144.05v-3.7M354.4 801.5v3.7M424.1 1144.05v-3.7M424.1 801.5v3.7M75.15 1075.5h3.7M441.6 1075.5h-3.7M75.15 1007.0h3.7M441.6 1007.0h-3.7M75.15 938.5h3.7M441.6 938.5h-3.7M75.15 870.0h3.7M441.6 870.0h-3.7"/>
<line x1="101.7" y1="1143.9" x2="239.2" y2="1033.2" stroke="#7DAF1E" stroke-width="1.7"/>
<g fill="#8CB446" stroke="#000" stroke-width="1.85"><circle cx="178.8" cy="1111.6" r="6.65"/><circle cx="181.3" cy="1113.8" r="6.65"/><circle cx="180.1" cy="1113.1" r="6.65"/><circle cx="186.9" cy="1116.5" r="6.65"/><circle cx="185.3" cy="1115.4" r="6.65"/><circle cx="188.2" cy="1109.3" r="6.65"/><circle cx="188.5" cy="1110.3" r="6.65"/><circle cx="239.9" cy="1000.2" r="6.65"/><circle cx="228.9" cy="1003.7" r="6.65"/><circle cx="226.8" cy="1003.9" r="6.65"/><circle cx="235.2" cy="1013.2" r="6.65"/><circle cx="233.3" cy="1018.8" r="6.65"/><circle cx="237.9" cy="1006.8" r="6.65"/><circle cx="238.9" cy="1008.2" r="6.65"/><circle cx="233.9" cy="998.3" r="6.65"/><circle cx="220.6" cy="993.7" r="6.65"/><circle cx="224.0" cy="1011.4" r="6.65"/><circle cx="208.5" cy="1003.9" r="6.65"/><circle cx="219.3" cy="1023.1" r="6.65"/><circle cx="207.8" cy="1017.9" r="6.65"/><circle cx="220.6" cy="1034.7" r="6.65"/><circle cx="212.2" cy="1031.9" r="6.65"/><circle cx="208.1" cy="1042.2" r="6.65"/><circle cx="236.5" cy="1036.0" r="6.65"/><circle cx="191.7" cy="1056.5" r="6.65"/><circle cx="190.4" cy="1055.2" r="6.65"/><circle cx="185.4" cy="1041.8" r="6.65"/><circle cx="177.4" cy="1063.6" r="6.65"/><circle cx="175.9" cy="1069.2" r="6.65"/><circle cx="195.1" cy="1072.0" r="6.65"/><circle cx="187.2" cy="1067.9" r="6.65"/><circle cx="172.7" cy="1076.7" r="6.65"/><circle cx="180.5" cy="1114.2" r="6.65"/><circle cx="178.9" cy="1113.2" r="6.65"/><circle cx="179.9" cy="1113.4" r="6.65"/><circle cx="191.3" cy="1083.8" r="6.65"/><circle cx="174.6" cy="1088.8" r="6.65"/><circle cx="187.2" cy="1092.2" r="6.65"/><circle cx="182.0" cy="1083.8" r="6.65"/><circle cx="165.2" cy="1092.2" r="6.65"/><circle cx="200.3" cy="1094.4" r="6.65"/><circle cx="157.4" cy="1101.5" r="6.65"/><circle cx="213.7" cy="1074.8" r="6.65"/><circle cx="218.4" cy="1067.7" r="6.65"/><circle cx="224.6" cy="1087.5" r="6.65"/><circle cx="222.5" cy="1081.0" r="6.65"/><circle cx="219.9" cy="1103.7" r="6.65"/><circle cx="172.2" cy="1111.5" r="6.65"/><circle cx="171.8" cy="1110.3" r="6.65"/><circle cx="171.4" cy="1113.4" r="6.65"/><circle cx="169.9" cy="1113.1" r="6.65"/><circle cx="178.3" cy="1117.5" r="6.65"/><circle cx="180.1" cy="1116.8" r="6.65"/><circle cx="182.1" cy="1118.4" r="6.65"/><circle cx="183.9" cy="1118.7" r="6.65"/><circle cx="194.1" cy="1115.9" r="6.65"/><circle cx="189.5" cy="1114.0" r="6.65"/><circle cx="191.3" cy="1114.0" r="6.65"/><circle cx="185.4" cy="1112.5" r="6.65"/><circle cx="186.7" cy="1112.1" r="6.65"/><circle cx="192.6" cy="1108.4" r="6.65"/><circle cx="190.4" cy="1108.4" r="6.65"/><circle cx="181.1" cy="1107.8" r="6.65"/><circle cx="180.1" cy="1109.3" r="6.65"/><circle cx="187.1" cy="1104.5" r="6.65"/><circle cx="187.6" cy="1103.4" r="6.65"/><circle cx="167.8" cy="1118.8" r="6.65"/><circle cx="168.0" cy="1117.7" r="6.65"/><circle cx="161.5" cy="1122.4" r="6.65"/><circle cx="156.0" cy="1120.0" r="6.65"/><circle cx="155.9" cy="1121.5" r="6.65"/><circle cx="149.3" cy="1121.2" r="6.65"/><circle cx="148.4" cy="1122.4" r="6.65"/><circle cx="164.4" cy="1116.6" r="6.65"/><circle cx="162.4" cy="1117.2" r="6.65"/><circle cx="149.4" cy="1114.0" r="6.65"/><circle cx="146.0" cy="1122.4" r="6.65"/><circle cx="144.7" cy="1122.4" r="6.65"/><circle cx="141.0" cy="1124.3" r="6.65"/><circle cx="133.5" cy="1131.7" r="6.65"/><circle cx="128.3" cy="1129.0" r="6.65"/><circle cx="127.0" cy="1129.9" r="6.65"/><circle cx="138.7" cy="1122.2" r="6.65"/><circle cx="137.2" cy="1122.4" r="6.65"/><circle cx="129.5" cy="1122.2" r="6.65"/><circle cx="127.9" cy="1121.5" r="6.65"/><circle cx="122.3" cy="1124.3" r="6.65"/><circle cx="110.2" cy="1129.9" r="6.65"/><circle cx="188.8" cy="1109.4" r="6.65"/><circle cx="188.6" cy="1110.7" r="6.65"/><circle cx="117.0" cy="1131.5" r="6.65"/><circle cx="115.8" cy="1130.8" r="6.65"/><circle cx="120.4" cy="1127.6" r="6.65"/><circle cx="118.6" cy="1128.0" r="6.65"/><circle cx="107.4" cy="1127.9" r="6.65"/><circle cx="106.5" cy="1127.1" r="6.65"/><circle cx="109.3" cy="1118.7" r="6.65"/><circle cx="97.1" cy="1130.8" r="6.65"/><circle cx="188.3" cy="1115.9" r="6.65"/><circle cx="187.4" cy="1115.2" r="6.65"/><circle cx="96.2" cy="1128.0" r="6.65"/><circle cx="98.4" cy="1123.1" r="6.65"/><circle cx="98.1" cy="1124.3" r="6.65"/><circle cx="98.5" cy="1119.0" r="6.65"/><circle cx="99.9" cy="1119.6" r="6.65"/></g>
<text class="t" transform="translate(75.2 1171.2) scale(0.98 1)" text-anchor="middle">0</text><text class="t" transform="translate(145.0 1171.2) scale(0.98 1)" text-anchor="middle">20</text><text class="t" transform="translate(214.8 1171.2) scale(0.98 1)" text-anchor="middle">40</text><text class="t" transform="translate(284.6 1171.2) scale(0.98 1)" text-anchor="middle">60</text><text class="t" transform="translate(354.4 1171.2) scale(0.98 1)" text-anchor="middle">80</text><text class="t" transform="translate(424.1 1171.2) scale(0.98 1)" text-anchor="middle">100</text><text class="t" transform="translate(66.2 1151.2) scale(0.98 1)" text-anchor="end">0</text><text class="t" transform="translate(66.2 1082.7) scale(0.98 1)" text-anchor="end">0.2</text><text class="t" transform="translate(66.2 1014.2) scale(0.98 1)" text-anchor="end">0.4</text><text class="t" transform="translate(66.2 945.7) scale(0.98 1)" text-anchor="end">0.6</text><text class="t" transform="translate(66.2 877.2) scale(0.98 1)" text-anchor="end">0.8</text><text class="t" transform="translate(66.2 808.7) scale(0.98 1)" text-anchor="end">1</text>
<text class="a" transform="translate(85.8 831.8) scale(1.018 1)">R=0.825</text><text class="a" transform="translate(85.8 858.7) scale(1.018 1)">y=0.0082x−6.19e−002</text>
<text class="l" transform="translate(19.9 972.8) rotate(-90)" text-anchor="middle">MAX−DOAS [1/km]</text>
</g>
<g>
<rect class="ax" x="569.5" y="801.5" width="365.8" height="342.55"/>
<path class="tk" d="M639.2 1144.05v-3.7M639.2 801.5v3.7M708.9 1144.05v-3.7M708.9 801.5v3.7M778.5 1144.05v-3.7M778.5 801.5v3.7M848.2 1144.05v-3.7M848.2 801.5v3.7M917.9 1144.05v-3.7M917.9 801.5v3.7M569.5 1075.5h3.7M935.3 1075.5h-3.7M569.5 1007.0h3.7M935.3 1007.0h-3.7M569.5 938.5h3.7M935.3 938.5h-3.7M569.5 870.0h3.7M935.3 870.0h-3.7"/>
<line x1="590.4" y1="1135.6" x2="733.2" y2="1038.7" stroke="#7DAF1E" stroke-width="1.7"/>
<g fill="#8CB446" stroke="#000" stroke-width="1.85"><circle cx="679.7" cy="1087.0" r="6.65"/><circle cx="681.7" cy="1086.5" r="6.65"/><circle cx="663.0" cy="1099.8" r="6.65"/><circle cx="662.8" cy="1098.8" r="6.65"/><circle cx="616.2" cy="1113.1" r="6.65"/><circle cx="617.8" cy="1114.6" r="6.65"/><circle cx="701.3" cy="998.9" r="6.65"/><circle cx="702.8" cy="995.1" r="6.65"/><circle cx="705.9" cy="992.2" r="6.65"/><circle cx="708.7" cy="1009.5" r="6.65"/><circle cx="714.3" cy="1009.5" r="6.65"/><circle cx="718.1" cy="1010.1" r="6.65"/><circle cx="719.0" cy="1019.8" r="6.65"/><circle cx="721.8" cy="1017.5" r="6.65"/><circle cx="733.4" cy="1030.0" r="6.65"/><circle cx="726.4" cy="1030.1" r="6.65"/><circle cx="727.4" cy="1029.1" r="6.65"/><circle cx="714.9" cy="1032.3" r="6.65"/><circle cx="701.6" cy="1039.0" r="6.65"/><circle cx="729.3" cy="1045.0" r="6.65"/><circle cx="729.3" cy="1050.6" r="6.65"/><circle cx="728.3" cy="1037.5" r="6.65"/><circle cx="671.8" cy="1048.7" r="6.65"/><circle cx="730.7" cy="1067.4" r="6.65"/><circle cx="682.0" cy="1088.9" r="6.65"/><circle cx="681.6" cy="1087.3" r="6.65"/><circle cx="677.5" cy="1074.5" r="6.65"/><circle cx="677.0" cy="1072.9" r="6.65"/><circle cx="684.1" cy="1064.6" r="6.65"/><circle cx="686.7" cy="1073.9" r="6.65"/><circle cx="666.8" cy="1078.5" r="6.65"/><circle cx="695.1" cy="1082.6" r="6.65"/><circle cx="667.5" cy="1085.3" r="6.65"/><circle cx="666.8" cy="1086.9" r="6.65"/><circle cx="673.6" cy="1081.2" r="6.65"/><circle cx="673.3" cy="1082.3" r="6.65"/><circle cx="651.8" cy="1087.5" r="6.65"/><circle cx="656.1" cy="1089.2" r="6.65"/><circle cx="674.1" cy="1091.6" r="6.65"/><circle cx="672.4" cy="1092.5" r="6.65"/><circle cx="686.3" cy="1094.4" r="6.65"/><circle cx="681.7" cy="1089.7" r="6.65"/><circle cx="681.0" cy="1082.1" r="6.65"/><circle cx="681.7" cy="1083.2" r="6.65"/><circle cx="674.2" cy="1101.9" r="6.65"/><circle cx="687.3" cy="1102.8" r="6.65"/><circle cx="667.3" cy="1096.2" r="6.65"/><circle cx="665.8" cy="1096.3" r="6.65"/><circle cx="658.2" cy="1101.9" r="6.65"/><circle cx="659.9" cy="1101.3" r="6.65"/><circle cx="710.0" cy="1071.1" r="6.65"/><circle cx="711.5" cy="1075.7" r="6.65"/><circle cx="718.4" cy="1081.3" r="6.65"/><circle cx="714.0" cy="1084.1" r="6.65"/><circle cx="716.6" cy="1074.4" r="6.65"/><circle cx="640.1" cy="1100.9" r="6.65"/><circle cx="665.3" cy="1096.7" r="6.65"/><circle cx="663.7" cy="1097.0" r="6.65"/><circle cx="651.2" cy="1104.5" r="6.65"/><circle cx="650.0" cy="1105.6" r="6.65"/><circle cx="654.6" cy="1108.4" r="6.65"/><circle cx="664.1" cy="1103.4" r="6.65"/><circle cx="662.1" cy="1103.7" r="6.65"/><circle cx="642.5" cy="1105.1" r="6.65"/><circle cx="644.0" cy="1105.6" r="6.65"/><circle cx="634.1" cy="1106.5" r="6.65"/><circle cx="632.8" cy="1109.3" r="6.65"/><circle cx="631.3" cy="1108.4" r="6.65"/><circle cx="626.6" cy="1113.1" r="6.65"/><circle cx="613.6" cy="1112.1" r="6.65"/><circle cx="619.2" cy="1111.2" r="6.65"/><circle cx="614.6" cy="1112.7" r="6.65"/><circle cx="615.3" cy="1114.0" r="6.65"/><circle cx="620.7" cy="1116.1" r="6.65"/><circle cx="622.0" cy="1117.2" r="6.65"/><circle cx="603.3" cy="1116.2" r="6.65"/><circle cx="605.4" cy="1121.5" r="6.65"/><circle cx="606.1" cy="1122.4" r="6.65"/><circle cx="591.2" cy="1124.3" r="6.65"/><circle cx="593.1" cy="1127.1" r="6.65"/><circle cx="596.8" cy="1128.9" r="6.65"/><circle cx="595.2" cy="1123.3" r="6.65"/><circle cx="594.6" cy="1121.5" r="6.65"/><circle cx="613.2" cy="1125.7" r="6.65"/></g>
<text class="t" transform="translate(569.5 1171.2) scale(0.98 1)" text-anchor="middle">0</text><text class="t" transform="translate(639.2 1171.2) scale(0.98 1)" text-anchor="middle">20</text><text class="t" transform="translate(708.9 1171.2) scale(0.98 1)" text-anchor="middle">40</text><text class="t" transform="translate(778.5 1171.2) scale(0.98 1)" text-anchor="middle">60</text><text class="t" transform="translate(848.2 1171.2) scale(0.98 1)" text-anchor="middle">80</text><text class="t" transform="translate(917.9 1171.2) scale(0.98 1)" text-anchor="middle">100</text><text class="t" transform="translate(560.5 1151.2) scale(0.98 1)" text-anchor="end">0</text><text class="t" transform="translate(560.5 1082.7) scale(0.98 1)" text-anchor="end">0.2</text><text class="t" transform="translate(560.5 1014.2) scale(0.98 1)" text-anchor="end">0.4</text><text class="t" transform="translate(560.5 945.7) scale(0.98 1)" text-anchor="end">0.6</text><text class="t" transform="translate(560.5 877.2) scale(0.98 1)" text-anchor="end">0.8</text><text class="t" transform="translate(560.5 808.7) scale(0.98 1)" text-anchor="end">1</text>
<text class="a" transform="translate(580.1 831.8) scale(1.018 1)">R=0.838</text><text class="a" transform="translate(580.1 858.7) scale(1.018 1)">y=0.0069x−1.67e−002</text>
<text class="l" transform="translate(514.2 972.8) rotate(-90)" text-anchor="middle">Ceilometer [1/km]</text>
</g>
<g>
<rect class="ax" x="75.15" y="1198.55" width="366.5" height="342.05"/>
<path class="tk" d="M145.0 1540.6v-3.7M145.0 1198.55v3.7M214.8 1540.6v-3.7M214.8 1198.55v3.7M284.6 1540.6v-3.7M284.6 1198.55v3.7M354.4 1540.6v-3.7M354.4 1198.55v3.7M424.1 1540.6v-3.7M424.1 1198.55v3.7M75.15 1472.2h3.7M441.6 1472.2h-3.7M75.15 1403.8h3.7M441.6 1403.8h-3.7M75.15 1335.4h3.7M441.6 1335.4h-3.7M75.15 1267.0h3.7M441.6 1267.0h-3.7"/>
<line x1="75.2" y1="1519.2" x2="265.4" y2="1493.1" stroke="#F46E64" stroke-width="1.7"/>
<g fill="#F4786E" stroke="#000" stroke-width="1.85"><circle cx="151.2" cy="1484.2" r="6.65"/><circle cx="150.6" cy="1482.3" r="6.65"/><circle cx="102.2" cy="1532.1" r="6.65"/><circle cx="103.5" cy="1530.8" r="6.65"/><circle cx="115.3" cy="1502.6" r="6.65"/><circle cx="113.9" cy="1501.0" r="6.65"/><circle cx="124.9" cy="1507.5" r="6.65"/><circle cx="126.4" cy="1508.6" r="6.65"/><circle cx="122.6" cy="1509.6" r="6.65"/><circle cx="122.2" cy="1507.9" r="6.65"/><circle cx="127.6" cy="1503.6" r="6.65"/><circle cx="129.1" cy="1504.4" r="6.65"/><circle cx="136.1" cy="1506.5" r="6.65"/><circle cx="130.7" cy="1500.7" r="6.65"/><circle cx="131.9" cy="1499.3" r="6.65"/><circle cx="149.9" cy="1498.7" r="6.65"/><circle cx="150.6" cy="1497.5" r="6.65"/><circle cx="160.6" cy="1498.7" r="6.65"/><circle cx="159.6" cy="1497.2" r="6.65"/><circle cx="163.7" cy="1502.5" r="6.65"/><circle cx="162.8" cy="1501.7" r="6.65"/><circle cx="169.9" cy="1499.7" r="6.65"/><circle cx="168.3" cy="1498.9" r="6.65"/><circle cx="171.9" cy="1506.0" r="6.65"/><circle cx="173.5" cy="1506.5" r="6.65"/><circle cx="190.9" cy="1501.4" r="6.65"/><circle cx="188.8" cy="1501.9" r="6.65"/><circle cx="189.4" cy="1501.0" r="6.65"/><circle cx="165.2" cy="1494.4" r="6.65"/><circle cx="185.9" cy="1489.9" r="6.65"/><circle cx="183.7" cy="1489.9" r="6.65"/><circle cx="115.6" cy="1512.7" r="6.65"/><circle cx="114.6" cy="1511.7" r="6.65"/><circle cx="123.4" cy="1513.1" r="6.65"/><circle cx="123.6" cy="1511.4" r="6.65"/><circle cx="177.4" cy="1510.0" r="6.65"/><circle cx="176.1" cy="1509.3" r="6.65"/><circle cx="183.0" cy="1510.4" r="6.65"/><circle cx="185.8" cy="1509.0" r="6.65"/><circle cx="184.4" cy="1509.0" r="6.65"/><circle cx="186.4" cy="1511.1" r="6.65"/><circle cx="187.0" cy="1510.9" r="6.65"/><circle cx="188.5" cy="1511.0" r="6.65"/><circle cx="188.8" cy="1515.7" r="6.65"/><circle cx="191.0" cy="1517.2" r="6.65"/><circle cx="189.4" cy="1516.9" r="6.65"/><circle cx="122.9" cy="1524.5" r="6.65"/><circle cx="190.5" cy="1517.0" r="6.65"/><circle cx="188.8" cy="1519.8" r="6.65"/><circle cx="188.9" cy="1518.0" r="6.65"/><circle cx="162.4" cy="1518.7" r="6.65"/><circle cx="135.9" cy="1532.1" r="6.65"/><circle cx="135.2" cy="1533.2" r="6.65"/><circle cx="182.3" cy="1508.2" r="6.65"/><circle cx="183.5" cy="1510.3" r="6.65"/><circle cx="183.5" cy="1509.0" r="6.65"/><circle cx="202.6" cy="1507.2" r="6.65"/><circle cx="202.2" cy="1505.8" r="6.65"/><circle cx="190.1" cy="1518.7" r="6.65"/><circle cx="190.3" cy="1519.3" r="6.65"/><circle cx="188.7" cy="1518.3" r="6.65"/><circle cx="134.2" cy="1505.6" r="6.65"/><circle cx="135.0" cy="1506.2" r="6.65"/><circle cx="155.7" cy="1483.1" r="6.65"/><circle cx="155.5" cy="1484.4" r="6.65"/><circle cx="82.0" cy="1509.3" r="6.65"/><circle cx="76.5" cy="1525.9" r="6.65"/><circle cx="76.5" cy="1519.7" r="6.65"/><circle cx="156.2" cy="1499.2" r="6.65"/><circle cx="157.9" cy="1499.0" r="6.65"/><circle cx="82.0" cy="1514.8" r="6.65"/><circle cx="82.7" cy="1503.8" r="6.65"/><circle cx="82.7" cy="1498.2" r="6.65"/><circle cx="91.0" cy="1521.1" r="6.65"/><circle cx="97.3" cy="1519.0" r="6.65"/><circle cx="148.7" cy="1484.4" r="6.65"/><circle cx="149.4" cy="1483.2" r="6.65"/><circle cx="100.4" cy="1518.1" r="6.65"/><circle cx="101.4" cy="1517.6" r="6.65"/><circle cx="106.3" cy="1518.1" r="6.65"/><circle cx="105.6" cy="1519.0" r="6.65"/><circle cx="96.4" cy="1524.8" r="6.65"/><circle cx="95.9" cy="1525.9" r="6.65"/><circle cx="100.9" cy="1530.1" r="6.65"/><circle cx="101.4" cy="1528.7" r="6.65"/><circle cx="98.7" cy="1534.2" r="6.65"/><circle cx="106.7" cy="1533.1" r="6.65"/><circle cx="105.6" cy="1532.9" r="6.65"/><circle cx="168.9" cy="1501.3" r="6.65"/><circle cx="169.9" cy="1500.1" r="6.65"/><circle cx="102.8" cy="1537.0" r="6.65"/><circle cx="188.4" cy="1508.4" r="6.65"/><circle cx="188.4" cy="1510.4" r="6.65"/><circle cx="186.8" cy="1509.9" r="6.65"/><circle cx="104.2" cy="1541.9" r="6.65"/><circle cx="111.1" cy="1524.6" r="6.65"/><circle cx="109.7" cy="1523.2" r="6.65"/><circle cx="104.2" cy="1502.4" r="6.65"/><circle cx="111.1" cy="1501.0" r="6.65"/><circle cx="115.8" cy="1502.8" r="6.65"/><circle cx="116.7" cy="1501.0" r="6.65"/><circle cx="122.2" cy="1494.1" r="6.65"/><circle cx="123.9" cy="1504.8" r="6.65"/><circle cx="125.0" cy="1505.1" r="6.65"/><circle cx="133.3" cy="1503.8" r="6.65"/><circle cx="143.0" cy="1503.8" r="6.65"/><circle cx="165.6" cy="1503.2" r="6.65"/><circle cx="164.3" cy="1503.2" r="6.65"/><circle cx="149.9" cy="1502.4" r="6.65"/><circle cx="161.2" cy="1518.5" r="6.65"/><circle cx="158.2" cy="1501.0" r="6.65"/><circle cx="178.4" cy="1509.9" r="6.65"/><circle cx="176.2" cy="1511.0" r="6.65"/><circle cx="177.7" cy="1510.8" r="6.65"/><circle cx="166.2" cy="1504.0" r="6.65"/><circle cx="167.3" cy="1502.4" r="6.65"/><circle cx="175.3" cy="1505.6" r="6.65"/><circle cx="174.9" cy="1503.8" r="6.65"/><circle cx="184.9" cy="1499.1" r="6.65"/><circle cx="186.0" cy="1501.0" r="6.65"/><circle cx="190.8" cy="1500.7" r="6.65"/><circle cx="192.9" cy="1501.0" r="6.65"/><circle cx="141.6" cy="1491.3" r="6.65"/><circle cx="151.3" cy="1492.7" r="6.65"/><circle cx="161.0" cy="1493.4" r="6.65"/><circle cx="167.8" cy="1496.1" r="6.65"/><circle cx="169.3" cy="1495.4" r="6.65"/><circle cx="176.2" cy="1489.2" r="6.65"/><circle cx="177.7" cy="1490.6" r="6.65"/><circle cx="188.0" cy="1517.0" r="6.65"/><circle cx="187.1" cy="1517.6" r="6.65"/><circle cx="188.4" cy="1491.1" r="6.65"/><circle cx="187.4" cy="1489.9" r="6.65"/><circle cx="110.4" cy="1511.2" r="6.65"/><circle cx="109.7" cy="1512.8" r="6.65"/><circle cx="118.8" cy="1512.7" r="6.65"/><circle cx="119.4" cy="1510.7" r="6.65"/><circle cx="127.4" cy="1513.1" r="6.65"/><circle cx="127.8" cy="1512.1" r="6.65"/><circle cx="139.8" cy="1509.6" r="6.65"/><circle cx="138.8" cy="1509.3" r="6.65"/><circle cx="171.9" cy="1508.2" r="6.65"/><circle cx="172.1" cy="1509.3" r="6.65"/><circle cx="181.4" cy="1507.3" r="6.65"/><circle cx="183.8" cy="1509.3" r="6.65"/><circle cx="181.8" cy="1509.3" r="6.65"/><circle cx="188.6" cy="1514.3" r="6.65"/><circle cx="191.1" cy="1511.8" r="6.65"/><circle cx="190.1" cy="1513.5" r="6.65"/><circle cx="121.7" cy="1522.2" r="6.65"/><circle cx="122.2" cy="1520.4" r="6.65"/><circle cx="188.7" cy="1518.7" r="6.65"/><circle cx="189.2" cy="1517.8" r="6.65"/><circle cx="187.6" cy="1517.8" r="6.65"/><circle cx="141.6" cy="1520.4" r="6.65"/><circle cx="152.7" cy="1520.4" r="6.65"/><circle cx="170.7" cy="1520.4" r="6.65"/><circle cx="129.1" cy="1504.9" r="6.65"/><circle cx="129.3" cy="1503.0" r="6.65"/><circle cx="187.8" cy="1520.7" r="6.65"/><circle cx="188.7" cy="1520.4" r="6.65"/><circle cx="162.4" cy="1523.2" r="6.65"/><circle cx="115.2" cy="1511.6" r="6.65"/><circle cx="113.9" cy="1511.4" r="6.65"/><circle cx="116.7" cy="1525.9" r="6.65"/><circle cx="148.2" cy="1496.4" r="6.65"/><circle cx="123.6" cy="1528.7" r="6.65"/><circle cx="141.6" cy="1530.1" r="6.65"/><circle cx="127.8" cy="1537.0" r="6.65"/><circle cx="103.4" cy="1534.4" r="6.65"/><circle cx="104.4" cy="1532.5" r="6.65"/><circle cx="138.8" cy="1535.6" r="6.65"/><circle cx="175.8" cy="1510.0" r="6.65"/><circle cx="175.7" cy="1508.0" r="6.65"/><circle cx="158.2" cy="1476.0" r="6.65"/><circle cx="170.7" cy="1481.6" r="6.65"/><circle cx="124.3" cy="1504.9" r="6.65"/><circle cx="123.4" cy="1506.1" r="6.65"/><circle cx="181.0" cy="1484.3" r="6.65"/><circle cx="179.0" cy="1484.4" r="6.65"/><circle cx="149.2" cy="1474.7" r="6.65"/><circle cx="133.3" cy="1480.9" r="6.65"/><circle cx="145.8" cy="1480.2" r="6.65"/><circle cx="164.8" cy="1478.8" r="6.65"/><circle cx="115.6" cy="1493.4" r="6.65"/><circle cx="130.5" cy="1494.7" r="6.65"/><circle cx="149.3" cy="1512.9" r="6.65"/><circle cx="150.6" cy="1512.8" r="6.65"/><circle cx="160.4" cy="1514.7" r="6.65"/><circle cx="162.4" cy="1514.2" r="6.65"/><circle cx="130.7" cy="1518.7" r="6.65"/><circle cx="131.9" cy="1519.0" r="6.65"/><circle cx="180.0" cy="1522.9" r="6.65"/><circle cx="181.1" cy="1521.8" r="6.65"/><circle cx="132.1" cy="1532.4" r="6.65"/><circle cx="131.5" cy="1530.8" r="6.65"/><circle cx="131.5" cy="1539.8" r="6.65"/><circle cx="124.6" cy="1509.9" r="6.65"/><circle cx="122.7" cy="1509.5" r="6.65"/><circle cx="76.5" cy="1539.8" r="6.65"/><circle cx="156.9" cy="1458.7" r="6.65"/><circle cx="180.5" cy="1484.0" r="6.65"/><circle cx="180.0" cy="1483.0" r="6.65"/><circle cx="186.5" cy="1488.5" r="6.65"/><circle cx="187.6" cy="1489.2" r="6.65"/><circle cx="181.2" cy="1488.8" r="6.65"/><circle cx="180.0" cy="1489.9" r="6.65"/><circle cx="178.0" cy="1509.0" r="6.65"/><circle cx="180.4" cy="1511.1" r="6.65"/><circle cx="180.0" cy="1509.3" r="6.65"/><circle cx="186.0" cy="1507.4" r="6.65"/><circle cx="187.9" cy="1508.3" r="6.65"/><circle cx="186.9" cy="1508.6" r="6.65"/><circle cx="186.3" cy="1499.4" r="6.65"/><circle cx="186.2" cy="1499.3" r="6.65"/><circle cx="185.5" cy="1500.3" r="6.65"/><circle cx="124.6" cy="1507.2" r="6.65"/><circle cx="124.1" cy="1523.5" r="6.65"/><circle cx="122.6" cy="1522.9" r="6.65"/><circle cx="190.0" cy="1511.7" r="6.65"/><circle cx="187.1" cy="1512.4" r="6.65"/><circle cx="188.8" cy="1512.3" r="6.65"/><circle cx="181.7" cy="1510.5" r="6.65"/><circle cx="183.2" cy="1509.0" r="6.65"/><circle cx="181.6" cy="1508.9" r="6.65"/><circle cx="165.1" cy="1495.7" r="6.65"/><circle cx="199.4" cy="1501.0" r="6.65"/><circle cx="196.4" cy="1500.7" r="6.65"/><circle cx="216.7" cy="1500.6" r="6.65"/><circle cx="200.9" cy="1504.5" r="6.65"/><circle cx="112.3" cy="1499.6" r="6.65"/><circle cx="214.0" cy="1505.1" r="6.65"/><circle cx="215.3" cy="1509.3" r="6.65"/><circle cx="200.9" cy="1514.1" r="6.65"/><circle cx="200.8" cy="1515.5" r="6.65"/><circle cx="200.3" cy="1521.4" r="6.65"/><circle cx="200.1" cy="1520.4" r="6.65"/><circle cx="133.1" cy="1498.4" r="6.65"/><circle cx="133.6" cy="1499.8" r="6.65"/><circle cx="206.6" cy="1509.7" r="6.65"/><circle cx="204.9" cy="1510.7" r="6.65"/><circle cx="210.5" cy="1513.7" r="6.65"/><circle cx="190.0" cy="1522.3" r="6.65"/><circle cx="188.3" cy="1521.1" r="6.65"/><circle cx="190.8" cy="1514.7" r="6.65"/><circle cx="189.9" cy="1514.0" r="6.65"/><circle cx="189.0" cy="1515.5" r="6.65"/><circle cx="180.4" cy="1520.0" r="6.65"/><circle cx="180.7" cy="1521.8" r="6.65"/><circle cx="186.3" cy="1517.4" r="6.65"/><circle cx="188.6" cy="1519.5" r="6.65"/><circle cx="187.4" cy="1518.1" r="6.65"/><circle cx="134.8" cy="1532.1" r="6.65"/><circle cx="135.7" cy="1532.7" r="6.65"/><circle cx="187.1" cy="1501.4" r="6.65"/><circle cx="186.3" cy="1502.6" r="6.65"/><circle cx="188.2" cy="1502.7" r="6.65"/><circle cx="226.4" cy="1512.1" r="6.65"/><circle cx="227.8" cy="1514.8" r="6.65"/><circle cx="185.0" cy="1488.5" r="6.65"/><circle cx="184.0" cy="1489.5" r="6.65"/><circle cx="236.1" cy="1510.0" r="6.65"/><circle cx="243.3" cy="1511.4" r="6.65"/><circle cx="262.7" cy="1503.8" r="6.65"/><circle cx="264.8" cy="1511.8" r="6.65"/></g>
<text class="t" transform="translate(75.2 1567.8) scale(0.98 1)" text-anchor="middle">0</text><text class="t" transform="translate(145.0 1567.8) scale(0.98 1)" text-anchor="middle">20</text><text class="t" transform="translate(214.8 1567.8) scale(0.98 1)" text-anchor="middle">40</text><text class="t" transform="translate(284.6 1567.8) scale(0.98 1)" text-anchor="middle">60</text><text class="t" transform="translate(354.4 1567.8) scale(0.98 1)" text-anchor="middle">80</text><text class="t" transform="translate(424.1 1567.8) scale(0.98 1)" text-anchor="middle">100</text><text class="t" transform="translate(66.2 1547.8) scale(0.98 1)" text-anchor="end">0</text><text class="t" transform="translate(66.2 1479.4) scale(0.98 1)" text-anchor="end">0.2</text><text class="t" transform="translate(66.2 1411.0) scale(0.98 1)" text-anchor="end">0.4</text><text class="t" transform="translate(66.2 1342.6) scale(0.98 1)" text-anchor="end">0.6</text><text class="t" transform="translate(66.2 1274.2) scale(0.98 1)" text-anchor="end">0.8</text><text class="t" transform="translate(66.2 1205.8) scale(0.98 1)" text-anchor="end">1</text>
<text class="a" transform="translate(85.8 1228.8) scale(1.018 1)">R=0.369</text><text class="a" transform="translate(85.8 1255.8) scale(1.018 1)">y=0.0014x+6.27e−002</text>
<text class="l" transform="translate(19.9 1369.6) rotate(-90)" text-anchor="middle">MAX−DOAS [1/km]</text>
<text class="l" x="259.2" y="1607.6" text-anchor="middle">GRIMM EDM 180 [µg m<tspan font-size="17.5px" dy="-12">−3</tspan><tspan dy="12">]</tspan></text>
</g>
<g>
<rect class="ax" x="569.5" y="1198.55" width="365.8" height="342.05"/>
<path class="tk" d="M639.2 1540.6v-3.7M639.2 1198.55v3.7M708.9 1540.6v-3.7M708.9 1198.55v3.7M778.5 1540.6v-3.7M778.5 1198.55v3.7M848.2 1540.6v-3.7M848.2 1198.55v3.7M917.9 1540.6v-3.7M917.9 1198.55v3.7M569.5 1472.2h3.7M935.3 1472.2h-3.7M569.5 1403.8h3.7M935.3 1403.8h-3.7M569.5 1335.4h3.7M935.3 1335.4h-3.7M569.5 1267.0h3.7M935.3 1267.0h-3.7"/>
<line x1="569.5" y1="1510.0" x2="759.4" y2="1439.2" stroke="#F46E64" stroke-width="1.7"/>
<g fill="#F4786E" stroke="#000" stroke-width="1.85"><circle cx="642.5" cy="1473.4" r="6.65"/><circle cx="650.9" cy="1478.1" r="6.65"/><circle cx="650.2" cy="1478.9" r="6.65"/><circle cx="657.2" cy="1460.7" r="6.65"/><circle cx="658.1" cy="1462.6" r="6.65"/><circle cx="663.6" cy="1463.7" r="6.65"/><circle cx="664.7" cy="1464.0" r="6.65"/><circle cx="665.0" cy="1467.0" r="6.65"/><circle cx="664.0" cy="1468.2" r="6.65"/><circle cx="637.3" cy="1496.0" r="6.65"/><circle cx="635.3" cy="1496.2" r="6.65"/><circle cx="641.8" cy="1493.0" r="6.65"/><circle cx="640.8" cy="1494.8" r="6.65"/><circle cx="641.9" cy="1502.6" r="6.65"/><circle cx="640.1" cy="1501.8" r="6.65"/><circle cx="674.0" cy="1451.9" r="6.65"/><circle cx="674.4" cy="1450.8" r="6.65"/><circle cx="674.3" cy="1451.7" r="6.65"/><circle cx="675.5" cy="1450.5" r="6.65"/><circle cx="574.8" cy="1516.0" r="6.65"/><circle cx="573.2" cy="1516.0" r="6.65"/><circle cx="614.8" cy="1454.3" r="6.65"/><circle cx="621.1" cy="1454.5" r="6.65"/><circle cx="620.7" cy="1456.0" r="6.65"/><circle cx="635.0" cy="1458.9" r="6.65"/><circle cx="636.3" cy="1459.2" r="6.65"/><circle cx="630.7" cy="1474.9" r="6.65"/><circle cx="629.4" cy="1475.1" r="6.65"/><circle cx="648.6" cy="1443.0" r="6.65"/><circle cx="649.3" cy="1444.6" r="6.65"/><circle cx="653.4" cy="1458.5" r="6.65"/><circle cx="651.2" cy="1458.5" r="6.65"/><circle cx="643.4" cy="1462.7" r="6.65"/><circle cx="643.2" cy="1460.5" r="6.65"/><circle cx="665.2" cy="1450.6" r="6.65"/><circle cx="663.3" cy="1451.5" r="6.65"/><circle cx="679.9" cy="1449.0" r="6.65"/><circle cx="679.0" cy="1450.1" r="6.65"/><circle cx="643.9" cy="1466.1" r="6.65"/><circle cx="643.9" cy="1468.9" r="6.65"/><circle cx="659.9" cy="1477.2" r="6.65"/><circle cx="678.6" cy="1466.6" r="6.65"/><circle cx="680.0" cy="1466.1" r="6.65"/><circle cx="685.8" cy="1465.7" r="6.65"/><circle cx="684.8" cy="1466.1" r="6.65"/><circle cx="686.6" cy="1468.4" r="6.65"/><circle cx="685.2" cy="1466.8" r="6.65"/><circle cx="659.8" cy="1478.9" r="6.65"/><circle cx="659.2" cy="1480.6" r="6.65"/><circle cx="624.7" cy="1487.2" r="6.65"/><circle cx="623.1" cy="1487.6" r="6.65"/><circle cx="627.4" cy="1480.7" r="6.65"/><circle cx="626.6" cy="1482.0" r="6.65"/><circle cx="637.9" cy="1483.5" r="6.65"/><circle cx="637.0" cy="1484.1" r="6.65"/><circle cx="639.6" cy="1490.3" r="6.65"/><circle cx="641.2" cy="1489.6" r="6.65"/><circle cx="644.3" cy="1488.2" r="6.65"/><circle cx="643.9" cy="1489.6" r="6.65"/><circle cx="646.5" cy="1487.0" r="6.65"/><circle cx="647.4" cy="1489.0" r="6.65"/><circle cx="649.1" cy="1494.4" r="6.65"/><circle cx="650.2" cy="1493.8" r="6.65"/><circle cx="614.7" cy="1499.7" r="6.65"/><circle cx="612.7" cy="1499.3" r="6.65"/><circle cx="614.8" cy="1505.1" r="6.65"/><circle cx="616.2" cy="1504.9" r="6.65"/><circle cx="610.9" cy="1506.1" r="6.65"/><circle cx="612.1" cy="1506.3" r="6.65"/><circle cx="617.8" cy="1511.0" r="6.65"/><circle cx="617.5" cy="1511.8" r="6.65"/><circle cx="617.6" cy="1509.7" r="6.65"/><circle cx="626.6" cy="1507.0" r="6.65"/><circle cx="626.6" cy="1505.9" r="6.65"/><circle cx="632.2" cy="1508.2" r="6.65"/><circle cx="631.1" cy="1509.4" r="6.65"/><circle cx="636.4" cy="1513.2" r="6.65"/><circle cx="634.6" cy="1512.9" r="6.65"/><circle cx="638.0" cy="1505.7" r="6.65"/><circle cx="638.7" cy="1507.3" r="6.65"/><circle cx="619.9" cy="1511.7" r="6.65"/><circle cx="620.0" cy="1515.1" r="6.65"/><circle cx="619.7" cy="1513.2" r="6.65"/><circle cx="612.1" cy="1509.8" r="6.65"/><circle cx="614.0" cy="1512.4" r="6.65"/><circle cx="613.4" cy="1511.1" r="6.65"/><circle cx="617.8" cy="1513.9" r="6.65"/><circle cx="618.3" cy="1515.3" r="6.65"/><circle cx="607.3" cy="1510.9" r="6.65"/><circle cx="608.6" cy="1511.8" r="6.65"/><circle cx="602.4" cy="1500.0" r="6.65"/><circle cx="602.4" cy="1501.4" r="6.65"/><circle cx="597.6" cy="1504.2" r="6.65"/><circle cx="599.6" cy="1504.2" r="6.65"/><circle cx="600.5" cy="1508.1" r="6.65"/><circle cx="601.0" cy="1507.0" r="6.65"/><circle cx="590.5" cy="1510.9" r="6.65"/><circle cx="591.3" cy="1511.8" r="6.65"/><circle cx="597.6" cy="1512.9" r="6.65"/><circle cx="598.2" cy="1513.0" r="6.65"/><circle cx="596.8" cy="1513.9" r="6.65"/><circle cx="592.9" cy="1519.4" r="6.65"/><circle cx="592.0" cy="1518.1" r="6.65"/><circle cx="592.7" cy="1515.9" r="6.65"/><circle cx="593.3" cy="1517.4" r="6.65"/><circle cx="591.7" cy="1519.1" r="6.65"/><circle cx="592.7" cy="1520.1" r="6.65"/><circle cx="595.9" cy="1520.5" r="6.65"/><circle cx="594.7" cy="1520.8" r="6.65"/><circle cx="605.4" cy="1516.4" r="6.65"/><circle cx="604.0" cy="1517.3" r="6.65"/><circle cx="605.1" cy="1517.4" r="6.65"/><circle cx="646.5" cy="1478.4" r="6.65"/><circle cx="645.3" cy="1477.2" r="6.65"/><circle cx="661.7" cy="1464.6" r="6.65"/><circle cx="660.6" cy="1465.4" r="6.65"/><circle cx="636.4" cy="1498.9" r="6.65"/><circle cx="637.7" cy="1498.0" r="6.65"/><circle cx="671.9" cy="1453.4" r="6.65"/><circle cx="673.0" cy="1454.3" r="6.65"/><circle cx="632.4" cy="1512.9" r="6.65"/><circle cx="633.6" cy="1511.3" r="6.65"/><circle cx="570.5" cy="1519.4" r="6.65"/><circle cx="574.7" cy="1517.6" r="6.65"/><circle cx="576.0" cy="1518.1" r="6.65"/><circle cx="576.7" cy="1444.6" r="6.65"/><circle cx="577.1" cy="1437.9" r="6.65"/><circle cx="643.0" cy="1499.1" r="6.65"/><circle cx="642.1" cy="1501.1" r="6.65"/><circle cx="605.8" cy="1443.2" r="6.65"/><circle cx="598.5" cy="1506.0" r="6.65"/><circle cx="599.5" cy="1505.6" r="6.65"/><circle cx="600.3" cy="1441.1" r="6.65"/><circle cx="601.0" cy="1451.5" r="6.65"/><circle cx="605.1" cy="1458.5" r="6.65"/><circle cx="660.4" cy="1478.7" r="6.65"/><circle cx="643.5" cy="1460.5" r="6.65"/><circle cx="644.2" cy="1458.6" r="6.65"/><circle cx="605.8" cy="1466.8" r="6.65"/><circle cx="607.9" cy="1473.0" r="6.65"/><circle cx="605.7" cy="1520.2" r="6.65"/><circle cx="605.5" cy="1518.0" r="6.65"/><circle cx="605.2" cy="1519.1" r="6.65"/><circle cx="616.2" cy="1451.5" r="6.65"/><circle cx="614.2" cy="1456.0" r="6.65"/><circle cx="613.4" cy="1457.1" r="6.65"/><circle cx="621.1" cy="1451.5" r="6.65"/><circle cx="632.8" cy="1454.3" r="6.65"/><circle cx="623.9" cy="1461.6" r="6.65"/><circle cx="625.2" cy="1460.5" r="6.65"/><circle cx="619.0" cy="1468.2" r="6.65"/><circle cx="611.1" cy="1508.5" r="6.65"/><circle cx="607.9" cy="1508.0" r="6.65"/><circle cx="609.6" cy="1507.3" r="6.65"/><circle cx="628.7" cy="1470.9" r="6.65"/><circle cx="618.8" cy="1455.2" r="6.65"/><circle cx="652.2" cy="1440.4" r="6.65"/><circle cx="646.7" cy="1434.9" r="6.65"/><circle cx="623.3" cy="1485.5" r="6.65"/><circle cx="645.0" cy="1439.1" r="6.65"/><circle cx="631.8" cy="1474.6" r="6.65"/><circle cx="638.0" cy="1426.6" r="6.65"/><circle cx="643.9" cy="1401.4" r="6.65"/><circle cx="652.1" cy="1494.9" r="6.65"/><circle cx="652.0" cy="1496.0" r="6.65"/><circle cx="639.8" cy="1452.9" r="6.65"/><circle cx="646.7" cy="1457.1" r="6.65"/><circle cx="680.8" cy="1462.3" r="6.65"/><circle cx="680.0" cy="1464.1" r="6.65"/><circle cx="633.4" cy="1509.9" r="6.65"/><circle cx="633.3" cy="1508.2" r="6.65"/><circle cx="620.3" cy="1510.9" r="6.65"/><circle cx="619.8" cy="1509.4" r="6.65"/><circle cx="653.6" cy="1450.1" r="6.65"/><circle cx="662.0" cy="1448.8" r="6.65"/><circle cx="651.8" cy="1444.3" r="6.65"/><circle cx="664.7" cy="1452.8" r="6.65"/><circle cx="664.7" cy="1454.3" r="6.65"/><circle cx="662.6" cy="1452.0" r="6.65"/><circle cx="663.8" cy="1452.2" r="6.65"/><circle cx="675.8" cy="1447.4" r="6.65"/><circle cx="627.0" cy="1504.9" r="6.65"/><circle cx="625.8" cy="1506.3" r="6.65"/><circle cx="683.3" cy="1452.0" r="6.65"/><circle cx="682.7" cy="1452.9" r="6.65"/><circle cx="686.9" cy="1444.6" r="6.65"/><circle cx="639.8" cy="1464.0" r="6.65"/><circle cx="655.7" cy="1458.7" r="6.65"/><circle cx="655.7" cy="1459.8" r="6.65"/><circle cx="639.8" cy="1469.5" r="6.65"/><circle cx="646.9" cy="1467.7" r="6.65"/><circle cx="648.1" cy="1468.2" r="6.65"/><circle cx="657.3" cy="1473.1" r="6.65"/><circle cx="656.4" cy="1473.7" r="6.65"/><circle cx="666.0" cy="1471.2" r="6.65"/><circle cx="667.5" cy="1470.9" r="6.65"/><circle cx="668.1" cy="1463.3" r="6.65"/><circle cx="668.9" cy="1462.6" r="6.65"/><circle cx="638.3" cy="1505.3" r="6.65"/><circle cx="639.4" cy="1507.2" r="6.65"/><circle cx="675.9" cy="1464.2" r="6.65"/><circle cx="677.2" cy="1462.6" r="6.65"/><circle cx="686.2" cy="1463.7" r="6.65"/><circle cx="686.9" cy="1462.6" r="6.65"/><circle cx="680.7" cy="1470.2" r="6.65"/><circle cx="683.1" cy="1467.8" r="6.65"/><circle cx="682.7" cy="1469.5" r="6.65"/><circle cx="676.6" cy="1479.6" r="6.65"/><circle cx="675.1" cy="1479.2" r="6.65"/><circle cx="682.7" cy="1480.6" r="6.65"/><circle cx="618.3" cy="1505.3" r="6.65"/><circle cx="617.2" cy="1505.2" r="6.65"/><circle cx="663.3" cy="1480.6" r="6.65"/><circle cx="650.8" cy="1461.2" r="6.65"/><circle cx="651.7" cy="1460.3" r="6.65"/><circle cx="678.7" cy="1449.1" r="6.65"/><circle cx="677.4" cy="1448.1" r="6.65"/><circle cx="655.0" cy="1480.6" r="6.65"/><circle cx="595.1" cy="1514.6" r="6.65"/><circle cx="596.0" cy="1515.9" r="6.65"/><circle cx="594.7" cy="1516.7" r="6.65"/><circle cx="576.0" cy="1495.9" r="6.65"/><circle cx="576.0" cy="1489.0" r="6.65"/><circle cx="576.0" cy="1482.0" r="6.65"/><circle cx="576.7" cy="1475.1" r="6.65"/><circle cx="576.7" cy="1469.5" r="6.65"/><circle cx="593.8" cy="1481.3" r="6.65"/><circle cx="627.4" cy="1484.9" r="6.65"/><circle cx="626.5" cy="1482.9" r="6.65"/><circle cx="616.2" cy="1480.6" r="6.65"/><circle cx="623.1" cy="1484.8" r="6.65"/><circle cx="630.1" cy="1479.2" r="6.65"/><circle cx="634.4" cy="1481.3" r="6.65"/><circle cx="635.6" cy="1480.6" r="6.65"/><circle cx="646.6" cy="1464.7" r="6.65"/><circle cx="645.8" cy="1466.1" r="6.65"/><circle cx="640.1" cy="1487.0" r="6.65"/><circle cx="638.4" cy="1487.6" r="6.65"/><circle cx="598.1" cy="1521.7" r="6.65"/><circle cx="596.9" cy="1522.1" r="6.65"/><circle cx="645.5" cy="1487.0" r="6.65"/><circle cx="643.9" cy="1487.6" r="6.65"/><circle cx="643.5" cy="1490.4" r="6.65"/><circle cx="643.9" cy="1491.7" r="6.65"/><circle cx="623.2" cy="1491.7" r="6.65"/><circle cx="623.1" cy="1490.3" r="6.65"/><circle cx="674.3" cy="1454.2" r="6.65"/><circle cx="673.2" cy="1452.4" r="6.65"/><circle cx="666.8" cy="1465.7" r="6.65"/><circle cx="665.9" cy="1464.8" r="6.65"/><circle cx="632.8" cy="1494.5" r="6.65"/><circle cx="634.2" cy="1457.7" r="6.65"/><circle cx="650.0" cy="1489.4" r="6.65"/><circle cx="650.9" cy="1490.3" r="6.65"/><circle cx="658.1" cy="1491.6" r="6.65"/><circle cx="657.8" cy="1490.3" r="6.65"/><circle cx="649.6" cy="1498.3" r="6.65"/><circle cx="649.5" cy="1497.3" r="6.65"/><circle cx="620.6" cy="1513.9" r="6.65"/><circle cx="620.7" cy="1515.7" r="6.65"/><circle cx="661.2" cy="1497.8" r="6.65"/><circle cx="662.0" cy="1495.9" r="6.65"/><circle cx="662.6" cy="1498.7" r="6.65"/><circle cx="670.3" cy="1504.2" r="6.65"/><circle cx="667.5" cy="1502.8" r="6.65"/><circle cx="681.4" cy="1500.0" r="6.65"/><circle cx="616.2" cy="1491.7" r="6.65"/><circle cx="612.1" cy="1495.9" r="6.65"/><circle cx="612.3" cy="1502.3" r="6.65"/><circle cx="613.4" cy="1502.8" r="6.65"/><circle cx="620.2" cy="1506.7" r="6.65"/><circle cx="619.0" cy="1507.0" r="6.65"/><circle cx="626.6" cy="1500.3" r="6.65"/><circle cx="625.9" cy="1502.1" r="6.65"/><circle cx="636.9" cy="1509.1" r="6.65"/><circle cx="634.9" cy="1509.0" r="6.65"/><circle cx="625.9" cy="1510.5" r="6.65"/><circle cx="627.3" cy="1509.7" r="6.65"/><circle cx="597.0" cy="1513.9" r="6.65"/><circle cx="595.6" cy="1514.4" r="6.65"/><circle cx="637.2" cy="1484.9" r="6.65"/><circle cx="637.2" cy="1483.9" r="6.65"/><circle cx="642.5" cy="1505.6" r="6.65"/><circle cx="635.9" cy="1496.6" r="6.65"/><circle cx="634.8" cy="1497.6" r="6.65"/><circle cx="648.1" cy="1507.0" r="6.65"/><circle cx="642.5" cy="1513.9" r="6.65"/><circle cx="634.2" cy="1516.7" r="6.65"/><circle cx="613.2" cy="1455.1" r="6.65"/><circle cx="683.7" cy="1462.7" r="6.65"/><circle cx="684.1" cy="1464.4" r="6.65"/><circle cx="625.2" cy="1513.6" r="6.65"/><circle cx="623.1" cy="1513.9" r="6.65"/><circle cx="617.7" cy="1511.9" r="6.65"/><circle cx="616.2" cy="1512.5" r="6.65"/><circle cx="611.8" cy="1509.0" r="6.65"/><circle cx="610.7" cy="1509.7" r="6.65"/><circle cx="601.0" cy="1498.7" r="6.65"/><circle cx="605.0" cy="1505.4" r="6.65"/><circle cx="603.7" cy="1504.2" r="6.65"/><circle cx="649.4" cy="1488.0" r="6.65"/><circle cx="647.3" cy="1487.6" r="6.65"/><circle cx="592.3" cy="1522.0" r="6.65"/><circle cx="593.0" cy="1520.6" r="6.65"/><circle cx="593.7" cy="1518.4" r="6.65"/><circle cx="592.1" cy="1516.6" r="6.65"/><circle cx="594.0" cy="1517.0" r="6.65"/><circle cx="588.5" cy="1500.7" r="6.65"/><circle cx="645.8" cy="1487.7" r="6.65"/><circle cx="644.4" cy="1487.6" r="6.65"/><circle cx="591.3" cy="1509.1" r="6.65"/><circle cx="591.3" cy="1507.0" r="6.65"/><circle cx="596.8" cy="1510.3" r="6.65"/><circle cx="598.2" cy="1509.7" r="6.65"/><circle cx="611.9" cy="1497.0" r="6.65"/><circle cx="610.6" cy="1497.6" r="6.65"/><circle cx="579.1" cy="1510.7" r="6.65"/><circle cx="580.2" cy="1509.7" r="6.65"/><circle cx="570.5" cy="1504.2" r="6.65"/><circle cx="571.2" cy="1508.4" r="6.65"/><circle cx="640.7" cy="1476.2" r="6.65"/><circle cx="640.6" cy="1474.4" r="6.65"/><circle cx="570.1" cy="1515.5" r="6.65"/><circle cx="570.5" cy="1513.9" r="6.65"/><circle cx="570.5" cy="1525.0" r="6.65"/><circle cx="582.6" cy="1520.7" r="6.65"/><circle cx="584.3" cy="1521.5" r="6.65"/><circle cx="588.4" cy="1516.5" r="6.65"/><circle cx="588.5" cy="1518.1" r="6.65"/><circle cx="665.1" cy="1468.4" r="6.65"/><circle cx="663.0" cy="1469.1" r="6.65"/><circle cx="658.7" cy="1460.7" r="6.65"/><circle cx="657.0" cy="1461.4" r="6.65"/><circle cx="658.5" cy="1478.7" r="6.65"/><circle cx="589.9" cy="1517.1" r="6.65"/><circle cx="591.3" cy="1516.7" r="6.65"/><circle cx="596.4" cy="1516.8" r="6.65"/><circle cx="595.4" cy="1518.1" r="6.65"/><circle cx="594.0" cy="1522.1" r="6.65"/><circle cx="594.0" cy="1523.6" r="6.65"/><circle cx="598.9" cy="1525.1" r="6.65"/><circle cx="599.6" cy="1524.3" r="6.65"/><circle cx="603.6" cy="1519.5" r="6.65"/><circle cx="603.7" cy="1520.8" r="6.65"/><circle cx="674.3" cy="1448.8" r="6.65"/><circle cx="676.2" cy="1448.7" r="6.65"/><circle cx="607.6" cy="1512.0" r="6.65"/><circle cx="606.5" cy="1513.9" r="6.65"/><circle cx="610.0" cy="1517.0" r="6.65"/><circle cx="610.7" cy="1518.1" r="6.65"/><circle cx="615.9" cy="1522.9" r="6.65"/><circle cx="597.3" cy="1502.4" r="6.65"/><circle cx="621.3" cy="1517.6" r="6.65"/><circle cx="620.4" cy="1518.1" r="6.65"/><circle cx="642.4" cy="1468.6" r="6.65"/><circle cx="628.7" cy="1527.1" r="6.65"/><circle cx="591.3" cy="1511.7" r="6.65"/><circle cx="593.1" cy="1510.6" r="6.65"/><circle cx="678.0" cy="1446.7" r="6.65"/><circle cx="683.1" cy="1451.5" r="6.65"/><circle cx="682.2" cy="1452.9" r="6.65"/><circle cx="694.4" cy="1443.9" r="6.65"/><circle cx="678.8" cy="1464.5" r="6.65"/><circle cx="678.0" cy="1465.4" r="6.65"/><circle cx="684.9" cy="1471.3" r="6.65"/><circle cx="684.5" cy="1470.5" r="6.65"/><circle cx="683.5" cy="1470.9" r="6.65"/><circle cx="640.3" cy="1490.8" r="6.65"/><circle cx="641.1" cy="1489.3" r="6.65"/><circle cx="574.1" cy="1518.8" r="6.65"/><circle cx="573.5" cy="1516.8" r="6.65"/><circle cx="608.4" cy="1514.7" r="6.65"/><circle cx="608.5" cy="1514.0" r="6.65"/><circle cx="607.5" cy="1514.0" r="6.65"/><circle cx="693.2" cy="1468.2" r="6.65"/><circle cx="691.9" cy="1475.1" r="6.65"/><circle cx="678.0" cy="1479.2" r="6.65"/><circle cx="682.9" cy="1480.6" r="6.65"/><circle cx="698.1" cy="1463.3" r="6.65"/><circle cx="686.7" cy="1465.5" r="6.65"/><circle cx="687.4" cy="1463.1" r="6.65"/><circle cx="686.4" cy="1464.0" r="6.65"/><circle cx="712.0" cy="1467.5" r="6.65"/><circle cx="709.2" cy="1464.7" r="6.65"/><circle cx="637.1" cy="1492.6" r="6.65"/><circle cx="638.9" cy="1493.5" r="6.65"/><circle cx="705.0" cy="1455.0" r="6.65"/><circle cx="706.4" cy="1478.6" r="6.65"/><circle cx="721.7" cy="1450.1" r="6.65"/><circle cx="722.6" cy="1453.6" r="6.65"/><circle cx="737.9" cy="1450.6" r="6.65"/><circle cx="617.0" cy="1511.3" r="6.65"/><circle cx="620.1" cy="1512.8" r="6.65"/><circle cx="618.5" cy="1512.6" r="6.65"/><circle cx="603.6" cy="1500.4" r="6.65"/><circle cx="601.6" cy="1500.2" r="6.65"/><circle cx="652.0" cy="1481.3" r="6.65"/><circle cx="650.9" cy="1481.1" r="6.65"/><circle cx="731.1" cy="1483.4" r="6.65"/><circle cx="609.5" cy="1510.9" r="6.65"/><circle cx="612.9" cy="1510.3" r="6.65"/><circle cx="611.1" cy="1510.2" r="6.65"/><circle cx="757.0" cy="1465.4" r="6.65"/><circle cx="759.4" cy="1473.0" r="6.65"/><circle cx="682.2" cy="1500.7" r="6.65"/></g>
<text class="t" transform="translate(569.5 1567.8) scale(0.98 1)" text-anchor="middle">0</text><text class="t" transform="translate(639.2 1567.8) scale(0.98 1)" text-anchor="middle">20</text><text class="t" transform="translate(708.9 1567.8) scale(0.98 1)" text-anchor="middle">40</text><text class="t" transform="translate(778.5 1567.8) scale(0.98 1)" text-anchor="middle">60</text><text class="t" transform="translate(848.2 1567.8) scale(0.98 1)" text-anchor="middle">80</text><text class="t" transform="translate(917.9 1567.8) scale(0.98 1)" text-anchor="middle">100</text><text class="t" transform="translate(560.5 1547.8) scale(0.98 1)" text-anchor="end">0</text><text class="t" transform="translate(560.5 1479.4) scale(0.98 1)" text-anchor="end">0.2</text><text class="t" transform="translate(560.5 1411.0) scale(0.98 1)" text-anchor="end">0.4</text><text class="t" transform="translate(560.5 1342.6) scale(0.98 1)" text-anchor="end">0.6</text><text class="t" transform="translate(560.5 1274.2) scale(0.98 1)" text-anchor="end">0.8</text><text class="t" transform="translate(560.5 1205.8) scale(0.98 1)" text-anchor="end">1</text>
<text class="a" transform="translate(580.1 1228.8) scale(1.018 1)">R=0.545</text><text class="a" transform="translate(580.1 1255.8) scale(1.018 1)">y=0.0038x+8.94e−002</text>
<text class="l" transform="translate(514.2 1369.6) rotate(-90)" text-anchor="middle">Ceilometer [1/km]</text>
<text class="l" x="753.2" y="1607.6" text-anchor="middle">GRIMM EDM 180 [µg m<tspan font-size="17.5px" dy="-12">−3</tspan><tspan dy="12">]</tspan></text>
</g>
</svg>
</body></html>
